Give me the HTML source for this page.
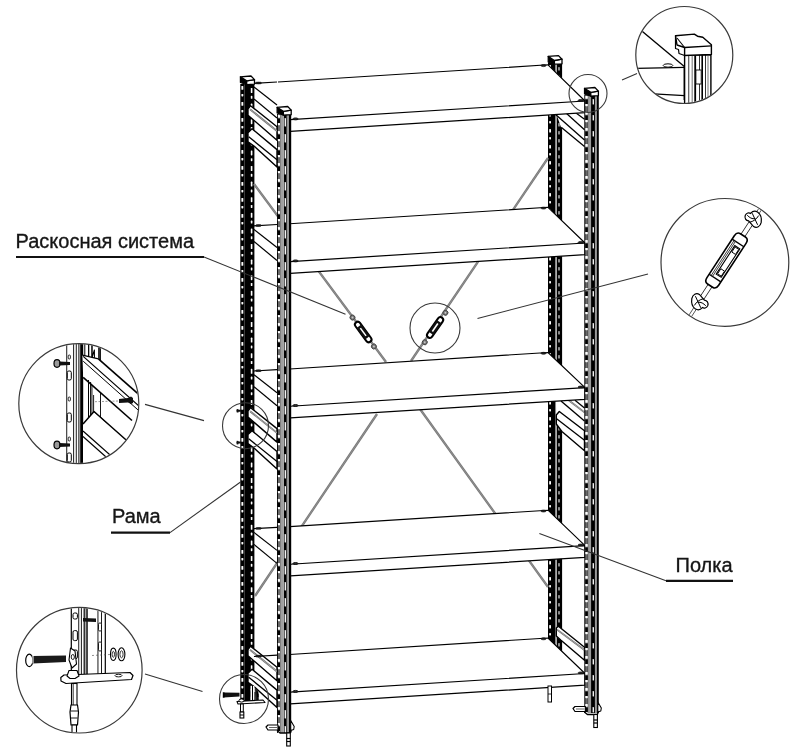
<!DOCTYPE html>
<html><head><meta charset="utf-8"><style>
html,body{margin:0;padding:0;background:#fff;width:800px;height:748px;overflow:hidden}
svg{position:absolute;left:0;top:0;display:block}
</style></head><body>
<svg width="800" height="748" viewBox="0 0 800 748">
<rect x="0.0" y="0.0" width="800.0" height="748.0" fill="#fff" />
<filter id="gs"><feOffset dx="0" dy="0"/></filter>
<rect x="240.3" y="84.0" width="14.1" height="618.0" fill="#000" />
<rect x="241.4" y="86.0" width="1.9" height="3.8" fill="#fff" rx="0.6"/>
<rect x="241.4" y="94.0" width="1.9" height="2.4" fill="#fff" rx="0.6"/>
<rect x="241.4" y="102.0" width="1.9" height="3.8" fill="#fff" rx="0.6"/>
<rect x="241.4" y="110.0" width="1.9" height="2.4" fill="#fff" rx="0.6"/>
<rect x="241.4" y="118.0" width="1.9" height="3.8" fill="#fff" rx="0.6"/>
<rect x="241.4" y="126.0" width="1.9" height="2.4" fill="#fff" rx="0.6"/>
<rect x="241.4" y="134.0" width="1.9" height="3.8" fill="#fff" rx="0.6"/>
<rect x="241.4" y="142.0" width="1.9" height="2.4" fill="#fff" rx="0.6"/>
<rect x="241.4" y="150.0" width="1.9" height="3.8" fill="#fff" rx="0.6"/>
<rect x="241.4" y="158.0" width="1.9" height="2.4" fill="#fff" rx="0.6"/>
<rect x="241.4" y="166.0" width="1.9" height="3.8" fill="#fff" rx="0.6"/>
<rect x="241.4" y="174.0" width="1.9" height="2.4" fill="#fff" rx="0.6"/>
<rect x="241.4" y="182.0" width="1.9" height="3.8" fill="#fff" rx="0.6"/>
<rect x="241.4" y="190.0" width="1.9" height="2.4" fill="#fff" rx="0.6"/>
<rect x="241.4" y="198.0" width="1.9" height="3.8" fill="#fff" rx="0.6"/>
<rect x="241.4" y="206.0" width="1.9" height="2.4" fill="#fff" rx="0.6"/>
<rect x="241.4" y="214.0" width="1.9" height="3.8" fill="#fff" rx="0.6"/>
<rect x="241.4" y="222.0" width="1.9" height="2.4" fill="#fff" rx="0.6"/>
<rect x="241.4" y="230.0" width="1.9" height="3.8" fill="#fff" rx="0.6"/>
<rect x="241.4" y="238.0" width="1.9" height="2.4" fill="#fff" rx="0.6"/>
<rect x="241.4" y="246.0" width="1.9" height="3.8" fill="#fff" rx="0.6"/>
<rect x="241.4" y="254.0" width="1.9" height="2.4" fill="#fff" rx="0.6"/>
<rect x="241.4" y="262.0" width="1.9" height="3.8" fill="#fff" rx="0.6"/>
<rect x="241.4" y="270.0" width="1.9" height="2.4" fill="#fff" rx="0.6"/>
<rect x="241.4" y="278.0" width="1.9" height="3.8" fill="#fff" rx="0.6"/>
<rect x="241.4" y="286.0" width="1.9" height="2.4" fill="#fff" rx="0.6"/>
<rect x="241.4" y="294.0" width="1.9" height="3.8" fill="#fff" rx="0.6"/>
<rect x="241.4" y="302.0" width="1.9" height="2.4" fill="#fff" rx="0.6"/>
<rect x="241.4" y="310.0" width="1.9" height="3.8" fill="#fff" rx="0.6"/>
<rect x="241.4" y="318.0" width="1.9" height="2.4" fill="#fff" rx="0.6"/>
<rect x="241.4" y="326.0" width="1.9" height="3.8" fill="#fff" rx="0.6"/>
<rect x="241.4" y="334.0" width="1.9" height="2.4" fill="#fff" rx="0.6"/>
<rect x="241.4" y="342.0" width="1.9" height="3.8" fill="#fff" rx="0.6"/>
<rect x="241.4" y="350.0" width="1.9" height="2.4" fill="#fff" rx="0.6"/>
<rect x="241.4" y="358.0" width="1.9" height="3.8" fill="#fff" rx="0.6"/>
<rect x="241.4" y="366.0" width="1.9" height="2.4" fill="#fff" rx="0.6"/>
<rect x="241.4" y="374.0" width="1.9" height="3.8" fill="#fff" rx="0.6"/>
<rect x="241.4" y="382.0" width="1.9" height="2.4" fill="#fff" rx="0.6"/>
<rect x="241.4" y="390.0" width="1.9" height="3.8" fill="#fff" rx="0.6"/>
<rect x="241.4" y="398.0" width="1.9" height="2.4" fill="#fff" rx="0.6"/>
<rect x="241.4" y="406.0" width="1.9" height="3.8" fill="#fff" rx="0.6"/>
<rect x="241.4" y="414.0" width="1.9" height="2.4" fill="#fff" rx="0.6"/>
<rect x="241.4" y="422.0" width="1.9" height="3.8" fill="#fff" rx="0.6"/>
<rect x="241.4" y="430.0" width="1.9" height="2.4" fill="#fff" rx="0.6"/>
<rect x="241.4" y="438.0" width="1.9" height="3.8" fill="#fff" rx="0.6"/>
<rect x="241.4" y="446.0" width="1.9" height="2.4" fill="#fff" rx="0.6"/>
<rect x="241.4" y="454.0" width="1.9" height="3.8" fill="#fff" rx="0.6"/>
<rect x="241.4" y="462.0" width="1.9" height="2.4" fill="#fff" rx="0.6"/>
<rect x="241.4" y="470.0" width="1.9" height="3.8" fill="#fff" rx="0.6"/>
<rect x="241.4" y="478.0" width="1.9" height="2.4" fill="#fff" rx="0.6"/>
<rect x="241.4" y="486.0" width="1.9" height="3.8" fill="#fff" rx="0.6"/>
<rect x="241.4" y="494.0" width="1.9" height="2.4" fill="#fff" rx="0.6"/>
<rect x="241.4" y="502.0" width="1.9" height="3.8" fill="#fff" rx="0.6"/>
<rect x="241.4" y="510.0" width="1.9" height="2.4" fill="#fff" rx="0.6"/>
<rect x="241.4" y="518.0" width="1.9" height="3.8" fill="#fff" rx="0.6"/>
<rect x="241.4" y="526.0" width="1.9" height="2.4" fill="#fff" rx="0.6"/>
<rect x="241.4" y="534.0" width="1.9" height="3.8" fill="#fff" rx="0.6"/>
<rect x="241.4" y="542.0" width="1.9" height="2.4" fill="#fff" rx="0.6"/>
<rect x="241.4" y="550.0" width="1.9" height="3.8" fill="#fff" rx="0.6"/>
<rect x="241.4" y="558.0" width="1.9" height="2.4" fill="#fff" rx="0.6"/>
<rect x="241.4" y="566.0" width="1.9" height="3.8" fill="#fff" rx="0.6"/>
<rect x="241.4" y="574.0" width="1.9" height="2.4" fill="#fff" rx="0.6"/>
<rect x="241.4" y="582.0" width="1.9" height="3.8" fill="#fff" rx="0.6"/>
<rect x="241.4" y="590.0" width="1.9" height="2.4" fill="#fff" rx="0.6"/>
<rect x="241.4" y="598.0" width="1.9" height="3.8" fill="#fff" rx="0.6"/>
<rect x="241.4" y="606.0" width="1.9" height="2.4" fill="#fff" rx="0.6"/>
<rect x="241.4" y="614.0" width="1.9" height="3.8" fill="#fff" rx="0.6"/>
<rect x="241.4" y="622.0" width="1.9" height="2.4" fill="#fff" rx="0.6"/>
<rect x="241.4" y="630.0" width="1.9" height="3.8" fill="#fff" rx="0.6"/>
<rect x="241.4" y="638.0" width="1.9" height="2.4" fill="#fff" rx="0.6"/>
<rect x="241.4" y="646.0" width="1.9" height="3.8" fill="#fff" rx="0.6"/>
<rect x="241.4" y="654.0" width="1.9" height="2.4" fill="#fff" rx="0.6"/>
<rect x="241.4" y="662.0" width="1.9" height="3.8" fill="#fff" rx="0.6"/>
<rect x="241.4" y="670.0" width="1.9" height="2.4" fill="#fff" rx="0.6"/>
<rect x="241.4" y="678.0" width="1.9" height="3.8" fill="#fff" rx="0.6"/>
<rect x="241.4" y="686.0" width="1.9" height="2.4" fill="#fff" rx="0.6"/>
<rect x="241.4" y="694.0" width="1.9" height="3.8" fill="#fff" rx="0.6"/>
<rect x="244.0" y="84.0" width="0.6" height="618.0" fill="#666" />
<rect x="250.8" y="88.0" width="1.6" height="5.0" fill="#fff" rx="0.6"/>
<rect x="250.8" y="95.8" width="1.6" height="3.0" fill="#fff" rx="0.6"/>
<rect x="250.8" y="103.6" width="1.6" height="5.0" fill="#fff" rx="0.6"/>
<rect x="250.8" y="111.4" width="1.6" height="3.0" fill="#fff" rx="0.6"/>
<rect x="250.8" y="119.2" width="1.6" height="5.0" fill="#fff" rx="0.6"/>
<rect x="250.8" y="127.0" width="1.6" height="3.0" fill="#fff" rx="0.6"/>
<rect x="250.8" y="134.8" width="1.6" height="5.0" fill="#fff" rx="0.6"/>
<rect x="250.8" y="142.6" width="1.6" height="3.0" fill="#fff" rx="0.6"/>
<rect x="250.8" y="150.4" width="1.6" height="5.0" fill="#fff" rx="0.6"/>
<rect x="250.8" y="158.2" width="1.6" height="3.0" fill="#fff" rx="0.6"/>
<rect x="250.8" y="166.0" width="1.6" height="5.0" fill="#fff" rx="0.6"/>
<rect x="250.8" y="173.8" width="1.6" height="3.0" fill="#fff" rx="0.6"/>
<rect x="250.8" y="181.6" width="1.6" height="5.0" fill="#fff" rx="0.6"/>
<rect x="250.8" y="189.4" width="1.6" height="3.0" fill="#fff" rx="0.6"/>
<rect x="250.8" y="197.2" width="1.6" height="5.0" fill="#fff" rx="0.6"/>
<rect x="250.8" y="205.0" width="1.6" height="3.0" fill="#fff" rx="0.6"/>
<rect x="250.8" y="212.8" width="1.6" height="5.0" fill="#fff" rx="0.6"/>
<rect x="250.8" y="220.6" width="1.6" height="3.0" fill="#fff" rx="0.6"/>
<rect x="250.8" y="228.4" width="1.6" height="5.0" fill="#fff" rx="0.6"/>
<rect x="250.8" y="236.2" width="1.6" height="3.0" fill="#fff" rx="0.6"/>
<rect x="250.8" y="244.0" width="1.6" height="5.0" fill="#fff" rx="0.6"/>
<rect x="250.8" y="251.8" width="1.6" height="3.0" fill="#fff" rx="0.6"/>
<rect x="250.8" y="259.6" width="1.6" height="5.0" fill="#fff" rx="0.6"/>
<rect x="250.8" y="267.4" width="1.6" height="3.0" fill="#fff" rx="0.6"/>
<rect x="250.8" y="275.2" width="1.6" height="5.0" fill="#fff" rx="0.6"/>
<rect x="250.8" y="283.0" width="1.6" height="3.0" fill="#fff" rx="0.6"/>
<rect x="250.8" y="290.8" width="1.6" height="5.0" fill="#fff" rx="0.6"/>
<rect x="250.8" y="298.6" width="1.6" height="3.0" fill="#fff" rx="0.6"/>
<rect x="250.8" y="306.4" width="1.6" height="5.0" fill="#fff" rx="0.6"/>
<rect x="250.8" y="314.2" width="1.6" height="3.0" fill="#fff" rx="0.6"/>
<rect x="250.8" y="322.0" width="1.6" height="5.0" fill="#fff" rx="0.6"/>
<rect x="250.8" y="329.8" width="1.6" height="3.0" fill="#fff" rx="0.6"/>
<rect x="250.8" y="337.6" width="1.6" height="5.0" fill="#fff" rx="0.6"/>
<rect x="250.8" y="345.4" width="1.6" height="3.0" fill="#fff" rx="0.6"/>
<rect x="250.8" y="353.2" width="1.6" height="5.0" fill="#fff" rx="0.6"/>
<rect x="250.8" y="361.0" width="1.6" height="3.0" fill="#fff" rx="0.6"/>
<rect x="250.8" y="368.8" width="1.6" height="5.0" fill="#fff" rx="0.6"/>
<rect x="250.8" y="376.6" width="1.6" height="3.0" fill="#fff" rx="0.6"/>
<rect x="250.8" y="384.4" width="1.6" height="5.0" fill="#fff" rx="0.6"/>
<rect x="250.8" y="392.2" width="1.6" height="3.0" fill="#fff" rx="0.6"/>
<rect x="250.8" y="400.0" width="1.6" height="5.0" fill="#fff" rx="0.6"/>
<rect x="250.8" y="407.8" width="1.6" height="3.0" fill="#fff" rx="0.6"/>
<rect x="250.8" y="415.6" width="1.6" height="5.0" fill="#fff" rx="0.6"/>
<rect x="250.8" y="423.4" width="1.6" height="3.0" fill="#fff" rx="0.6"/>
<rect x="250.8" y="431.2" width="1.6" height="5.0" fill="#fff" rx="0.6"/>
<rect x="250.8" y="439.0" width="1.6" height="3.0" fill="#fff" rx="0.6"/>
<rect x="250.8" y="446.8" width="1.6" height="5.0" fill="#fff" rx="0.6"/>
<rect x="250.8" y="454.6" width="1.6" height="3.0" fill="#fff" rx="0.6"/>
<rect x="250.8" y="462.4" width="1.6" height="5.0" fill="#fff" rx="0.6"/>
<rect x="250.8" y="470.2" width="1.6" height="3.0" fill="#fff" rx="0.6"/>
<rect x="250.8" y="478.0" width="1.6" height="5.0" fill="#fff" rx="0.6"/>
<rect x="250.8" y="485.8" width="1.6" height="3.0" fill="#fff" rx="0.6"/>
<rect x="250.8" y="493.6" width="1.6" height="5.0" fill="#fff" rx="0.6"/>
<rect x="250.8" y="501.4" width="1.6" height="3.0" fill="#fff" rx="0.6"/>
<rect x="250.8" y="509.2" width="1.6" height="5.0" fill="#fff" rx="0.6"/>
<rect x="250.8" y="517.0" width="1.6" height="3.0" fill="#fff" rx="0.6"/>
<rect x="250.8" y="524.8" width="1.6" height="5.0" fill="#fff" rx="0.6"/>
<rect x="250.8" y="532.6" width="1.6" height="3.0" fill="#fff" rx="0.6"/>
<rect x="250.8" y="540.4" width="1.6" height="5.0" fill="#fff" rx="0.6"/>
<rect x="250.8" y="548.2" width="1.6" height="3.0" fill="#fff" rx="0.6"/>
<rect x="250.8" y="556.0" width="1.6" height="5.0" fill="#fff" rx="0.6"/>
<rect x="250.8" y="563.8" width="1.6" height="3.0" fill="#fff" rx="0.6"/>
<rect x="250.8" y="571.6" width="1.6" height="5.0" fill="#fff" rx="0.6"/>
<rect x="250.8" y="579.4" width="1.6" height="3.0" fill="#fff" rx="0.6"/>
<rect x="250.8" y="587.2" width="1.6" height="5.0" fill="#fff" rx="0.6"/>
<rect x="250.8" y="595.0" width="1.6" height="3.0" fill="#fff" rx="0.6"/>
<rect x="250.8" y="602.8" width="1.6" height="5.0" fill="#fff" rx="0.6"/>
<rect x="250.8" y="610.6" width="1.6" height="3.0" fill="#fff" rx="0.6"/>
<rect x="250.8" y="618.4" width="1.6" height="5.0" fill="#fff" rx="0.6"/>
<rect x="250.8" y="626.2" width="1.6" height="3.0" fill="#fff" rx="0.6"/>
<rect x="250.8" y="634.0" width="1.6" height="5.0" fill="#fff" rx="0.6"/>
<rect x="250.8" y="641.8" width="1.6" height="3.0" fill="#fff" rx="0.6"/>
<rect x="250.8" y="649.6" width="1.6" height="5.0" fill="#fff" rx="0.6"/>
<rect x="250.8" y="657.4" width="1.6" height="3.0" fill="#fff" rx="0.6"/>
<rect x="250.8" y="665.2" width="1.6" height="5.0" fill="#fff" rx="0.6"/>
<rect x="250.8" y="673.0" width="1.6" height="3.0" fill="#fff" rx="0.6"/>
<rect x="250.8" y="680.8" width="1.6" height="5.0" fill="#fff" rx="0.6"/>
<rect x="250.8" y="688.6" width="1.6" height="3.0" fill="#fff" rx="0.6"/>
<rect x="250.8" y="696.4" width="1.6" height="5.0" fill="#fff" rx="0.6"/>
<rect x="548.0" y="63.0" width="14.1" height="621.0" fill="#000" />
<rect x="549.2" y="65.0" width="1.8" height="3.6" fill="#fff" rx="0.6"/>
<rect x="549.2" y="73.0" width="1.8" height="2.4" fill="#fff" rx="0.6"/>
<rect x="549.2" y="81.0" width="1.8" height="3.6" fill="#fff" rx="0.6"/>
<rect x="549.2" y="89.0" width="1.8" height="2.4" fill="#fff" rx="0.6"/>
<rect x="549.2" y="97.0" width="1.8" height="3.6" fill="#fff" rx="0.6"/>
<rect x="549.2" y="105.0" width="1.8" height="2.4" fill="#fff" rx="0.6"/>
<rect x="549.2" y="113.0" width="1.8" height="3.6" fill="#fff" rx="0.6"/>
<rect x="549.2" y="121.0" width="1.8" height="2.4" fill="#fff" rx="0.6"/>
<rect x="549.2" y="129.0" width="1.8" height="3.6" fill="#fff" rx="0.6"/>
<rect x="549.2" y="137.0" width="1.8" height="2.4" fill="#fff" rx="0.6"/>
<rect x="549.2" y="145.0" width="1.8" height="3.6" fill="#fff" rx="0.6"/>
<rect x="549.2" y="153.0" width="1.8" height="2.4" fill="#fff" rx="0.6"/>
<rect x="549.2" y="161.0" width="1.8" height="3.6" fill="#fff" rx="0.6"/>
<rect x="549.2" y="169.0" width="1.8" height="2.4" fill="#fff" rx="0.6"/>
<rect x="549.2" y="177.0" width="1.8" height="3.6" fill="#fff" rx="0.6"/>
<rect x="549.2" y="185.0" width="1.8" height="2.4" fill="#fff" rx="0.6"/>
<rect x="549.2" y="193.0" width="1.8" height="3.6" fill="#fff" rx="0.6"/>
<rect x="549.2" y="201.0" width="1.8" height="2.4" fill="#fff" rx="0.6"/>
<rect x="549.2" y="209.0" width="1.8" height="3.6" fill="#fff" rx="0.6"/>
<rect x="549.2" y="217.0" width="1.8" height="2.4" fill="#fff" rx="0.6"/>
<rect x="549.2" y="225.0" width="1.8" height="3.6" fill="#fff" rx="0.6"/>
<rect x="549.2" y="233.0" width="1.8" height="2.4" fill="#fff" rx="0.6"/>
<rect x="549.2" y="241.0" width="1.8" height="3.6" fill="#fff" rx="0.6"/>
<rect x="549.2" y="249.0" width="1.8" height="2.4" fill="#fff" rx="0.6"/>
<rect x="549.2" y="257.0" width="1.8" height="3.6" fill="#fff" rx="0.6"/>
<rect x="549.2" y="265.0" width="1.8" height="2.4" fill="#fff" rx="0.6"/>
<rect x="549.2" y="273.0" width="1.8" height="3.6" fill="#fff" rx="0.6"/>
<rect x="549.2" y="281.0" width="1.8" height="2.4" fill="#fff" rx="0.6"/>
<rect x="549.2" y="289.0" width="1.8" height="3.6" fill="#fff" rx="0.6"/>
<rect x="549.2" y="297.0" width="1.8" height="2.4" fill="#fff" rx="0.6"/>
<rect x="549.2" y="305.0" width="1.8" height="3.6" fill="#fff" rx="0.6"/>
<rect x="549.2" y="313.0" width="1.8" height="2.4" fill="#fff" rx="0.6"/>
<rect x="549.2" y="321.0" width="1.8" height="3.6" fill="#fff" rx="0.6"/>
<rect x="549.2" y="329.0" width="1.8" height="2.4" fill="#fff" rx="0.6"/>
<rect x="549.2" y="337.0" width="1.8" height="3.6" fill="#fff" rx="0.6"/>
<rect x="549.2" y="345.0" width="1.8" height="2.4" fill="#fff" rx="0.6"/>
<rect x="549.2" y="353.0" width="1.8" height="3.6" fill="#fff" rx="0.6"/>
<rect x="549.2" y="361.0" width="1.8" height="2.4" fill="#fff" rx="0.6"/>
<rect x="549.2" y="369.0" width="1.8" height="3.6" fill="#fff" rx="0.6"/>
<rect x="549.2" y="377.0" width="1.8" height="2.4" fill="#fff" rx="0.6"/>
<rect x="549.2" y="385.0" width="1.8" height="3.6" fill="#fff" rx="0.6"/>
<rect x="549.2" y="393.0" width="1.8" height="2.4" fill="#fff" rx="0.6"/>
<rect x="549.2" y="401.0" width="1.8" height="3.6" fill="#fff" rx="0.6"/>
<rect x="549.2" y="409.0" width="1.8" height="2.4" fill="#fff" rx="0.6"/>
<rect x="549.2" y="417.0" width="1.8" height="3.6" fill="#fff" rx="0.6"/>
<rect x="549.2" y="425.0" width="1.8" height="2.4" fill="#fff" rx="0.6"/>
<rect x="549.2" y="433.0" width="1.8" height="3.6" fill="#fff" rx="0.6"/>
<rect x="549.2" y="441.0" width="1.8" height="2.4" fill="#fff" rx="0.6"/>
<rect x="549.2" y="449.0" width="1.8" height="3.6" fill="#fff" rx="0.6"/>
<rect x="549.2" y="457.0" width="1.8" height="2.4" fill="#fff" rx="0.6"/>
<rect x="549.2" y="465.0" width="1.8" height="3.6" fill="#fff" rx="0.6"/>
<rect x="549.2" y="473.0" width="1.8" height="2.4" fill="#fff" rx="0.6"/>
<rect x="549.2" y="481.0" width="1.8" height="3.6" fill="#fff" rx="0.6"/>
<rect x="549.2" y="489.0" width="1.8" height="2.4" fill="#fff" rx="0.6"/>
<rect x="549.2" y="497.0" width="1.8" height="3.6" fill="#fff" rx="0.6"/>
<rect x="549.2" y="505.0" width="1.8" height="2.4" fill="#fff" rx="0.6"/>
<rect x="549.2" y="513.0" width="1.8" height="3.6" fill="#fff" rx="0.6"/>
<rect x="549.2" y="521.0" width="1.8" height="2.4" fill="#fff" rx="0.6"/>
<rect x="549.2" y="529.0" width="1.8" height="3.6" fill="#fff" rx="0.6"/>
<rect x="549.2" y="537.0" width="1.8" height="2.4" fill="#fff" rx="0.6"/>
<rect x="549.2" y="545.0" width="1.8" height="3.6" fill="#fff" rx="0.6"/>
<rect x="549.2" y="553.0" width="1.8" height="2.4" fill="#fff" rx="0.6"/>
<rect x="549.2" y="561.0" width="1.8" height="3.6" fill="#fff" rx="0.6"/>
<rect x="549.2" y="569.0" width="1.8" height="2.4" fill="#fff" rx="0.6"/>
<rect x="549.2" y="577.0" width="1.8" height="3.6" fill="#fff" rx="0.6"/>
<rect x="549.2" y="585.0" width="1.8" height="2.4" fill="#fff" rx="0.6"/>
<rect x="549.2" y="593.0" width="1.8" height="3.6" fill="#fff" rx="0.6"/>
<rect x="549.2" y="601.0" width="1.8" height="2.4" fill="#fff" rx="0.6"/>
<rect x="549.2" y="609.0" width="1.8" height="3.6" fill="#fff" rx="0.6"/>
<rect x="549.2" y="617.0" width="1.8" height="2.4" fill="#fff" rx="0.6"/>
<rect x="549.2" y="625.0" width="1.8" height="3.6" fill="#fff" rx="0.6"/>
<rect x="549.2" y="633.0" width="1.8" height="2.4" fill="#fff" rx="0.6"/>
<rect x="549.2" y="641.0" width="1.8" height="3.6" fill="#fff" rx="0.6"/>
<rect x="549.2" y="649.0" width="1.8" height="2.4" fill="#fff" rx="0.6"/>
<rect x="549.2" y="657.0" width="1.8" height="3.6" fill="#fff" rx="0.6"/>
<rect x="549.2" y="665.0" width="1.8" height="2.4" fill="#fff" rx="0.6"/>
<rect x="549.2" y="673.0" width="1.8" height="3.6" fill="#fff" rx="0.6"/>
<rect x="549.2" y="681.0" width="1.8" height="2.4" fill="#fff" rx="0.6"/>
<rect x="555.2" y="63.0" width="1.8" height="621.0" fill="#aaa" />
<rect x="558.0" y="67.0" width="2.0" height="3.5" fill="#8a8a8a" rx="0.6"/>
<rect x="558.0" y="75.0" width="2.0" height="3.5" fill="#8a8a8a" rx="0.6"/>
<rect x="558.0" y="83.0" width="2.0" height="3.5" fill="#8a8a8a" rx="0.6"/>
<rect x="558.0" y="91.0" width="2.0" height="3.5" fill="#8a8a8a" rx="0.6"/>
<rect x="558.0" y="99.0" width="2.0" height="3.5" fill="#8a8a8a" rx="0.6"/>
<rect x="558.0" y="107.0" width="2.0" height="3.5" fill="#8a8a8a" rx="0.6"/>
<rect x="558.0" y="115.0" width="2.0" height="3.5" fill="#8a8a8a" rx="0.6"/>
<rect x="558.0" y="123.0" width="2.0" height="3.5" fill="#8a8a8a" rx="0.6"/>
<rect x="558.0" y="131.0" width="2.0" height="3.5" fill="#8a8a8a" rx="0.6"/>
<rect x="558.0" y="139.0" width="2.0" height="3.5" fill="#8a8a8a" rx="0.6"/>
<rect x="558.0" y="147.0" width="2.0" height="3.5" fill="#8a8a8a" rx="0.6"/>
<rect x="558.0" y="155.0" width="2.0" height="3.5" fill="#8a8a8a" rx="0.6"/>
<rect x="558.0" y="163.0" width="2.0" height="3.5" fill="#8a8a8a" rx="0.6"/>
<rect x="558.0" y="171.0" width="2.0" height="3.5" fill="#8a8a8a" rx="0.6"/>
<rect x="558.0" y="179.0" width="2.0" height="3.5" fill="#8a8a8a" rx="0.6"/>
<rect x="558.0" y="187.0" width="2.0" height="3.5" fill="#8a8a8a" rx="0.6"/>
<rect x="558.0" y="195.0" width="2.0" height="3.5" fill="#8a8a8a" rx="0.6"/>
<rect x="558.0" y="203.0" width="2.0" height="3.5" fill="#8a8a8a" rx="0.6"/>
<rect x="558.0" y="211.0" width="2.0" height="3.5" fill="#8a8a8a" rx="0.6"/>
<rect x="558.0" y="219.0" width="2.0" height="3.5" fill="#8a8a8a" rx="0.6"/>
<rect x="558.0" y="227.0" width="2.0" height="3.5" fill="#8a8a8a" rx="0.6"/>
<rect x="558.0" y="235.0" width="2.0" height="3.5" fill="#8a8a8a" rx="0.6"/>
<rect x="558.0" y="243.0" width="2.0" height="3.5" fill="#8a8a8a" rx="0.6"/>
<rect x="558.0" y="251.0" width="2.0" height="3.5" fill="#8a8a8a" rx="0.6"/>
<rect x="558.0" y="259.0" width="2.0" height="3.5" fill="#8a8a8a" rx="0.6"/>
<rect x="558.0" y="267.0" width="2.0" height="3.5" fill="#8a8a8a" rx="0.6"/>
<rect x="558.0" y="275.0" width="2.0" height="3.5" fill="#8a8a8a" rx="0.6"/>
<rect x="558.0" y="283.0" width="2.0" height="3.5" fill="#8a8a8a" rx="0.6"/>
<rect x="558.0" y="291.0" width="2.0" height="3.5" fill="#8a8a8a" rx="0.6"/>
<rect x="558.0" y="299.0" width="2.0" height="3.5" fill="#8a8a8a" rx="0.6"/>
<rect x="558.0" y="307.0" width="2.0" height="3.5" fill="#8a8a8a" rx="0.6"/>
<rect x="558.0" y="315.0" width="2.0" height="3.5" fill="#8a8a8a" rx="0.6"/>
<rect x="558.0" y="323.0" width="2.0" height="3.5" fill="#8a8a8a" rx="0.6"/>
<rect x="558.0" y="331.0" width="2.0" height="3.5" fill="#8a8a8a" rx="0.6"/>
<rect x="558.0" y="339.0" width="2.0" height="3.5" fill="#8a8a8a" rx="0.6"/>
<rect x="558.0" y="347.0" width="2.0" height="3.5" fill="#8a8a8a" rx="0.6"/>
<rect x="558.0" y="355.0" width="2.0" height="3.5" fill="#8a8a8a" rx="0.6"/>
<rect x="558.0" y="363.0" width="2.0" height="3.5" fill="#8a8a8a" rx="0.6"/>
<rect x="558.0" y="371.0" width="2.0" height="3.5" fill="#8a8a8a" rx="0.6"/>
<rect x="558.0" y="379.0" width="2.0" height="3.5" fill="#8a8a8a" rx="0.6"/>
<rect x="558.0" y="387.0" width="2.0" height="3.5" fill="#8a8a8a" rx="0.6"/>
<rect x="558.0" y="395.0" width="2.0" height="3.5" fill="#8a8a8a" rx="0.6"/>
<rect x="558.0" y="403.0" width="2.0" height="3.5" fill="#8a8a8a" rx="0.6"/>
<rect x="558.0" y="411.0" width="2.0" height="3.5" fill="#8a8a8a" rx="0.6"/>
<rect x="558.0" y="419.0" width="2.0" height="3.5" fill="#8a8a8a" rx="0.6"/>
<rect x="558.0" y="427.0" width="2.0" height="3.5" fill="#8a8a8a" rx="0.6"/>
<rect x="558.0" y="435.0" width="2.0" height="3.5" fill="#8a8a8a" rx="0.6"/>
<rect x="558.0" y="443.0" width="2.0" height="3.5" fill="#8a8a8a" rx="0.6"/>
<rect x="558.0" y="451.0" width="2.0" height="3.5" fill="#8a8a8a" rx="0.6"/>
<rect x="558.0" y="459.0" width="2.0" height="3.5" fill="#8a8a8a" rx="0.6"/>
<rect x="558.0" y="467.0" width="2.0" height="3.5" fill="#8a8a8a" rx="0.6"/>
<rect x="558.0" y="475.0" width="2.0" height="3.5" fill="#8a8a8a" rx="0.6"/>
<rect x="558.0" y="483.0" width="2.0" height="3.5" fill="#8a8a8a" rx="0.6"/>
<rect x="558.0" y="491.0" width="2.0" height="3.5" fill="#8a8a8a" rx="0.6"/>
<rect x="558.0" y="499.0" width="2.0" height="3.5" fill="#8a8a8a" rx="0.6"/>
<rect x="558.0" y="507.0" width="2.0" height="3.5" fill="#8a8a8a" rx="0.6"/>
<rect x="558.0" y="515.0" width="2.0" height="3.5" fill="#8a8a8a" rx="0.6"/>
<rect x="558.0" y="523.0" width="2.0" height="3.5" fill="#8a8a8a" rx="0.6"/>
<rect x="558.0" y="531.0" width="2.0" height="3.5" fill="#8a8a8a" rx="0.6"/>
<rect x="558.0" y="539.0" width="2.0" height="3.5" fill="#8a8a8a" rx="0.6"/>
<rect x="558.0" y="547.0" width="2.0" height="3.5" fill="#8a8a8a" rx="0.6"/>
<rect x="558.0" y="555.0" width="2.0" height="3.5" fill="#8a8a8a" rx="0.6"/>
<rect x="558.0" y="563.0" width="2.0" height="3.5" fill="#8a8a8a" rx="0.6"/>
<rect x="558.0" y="571.0" width="2.0" height="3.5" fill="#8a8a8a" rx="0.6"/>
<rect x="558.0" y="579.0" width="2.0" height="3.5" fill="#8a8a8a" rx="0.6"/>
<rect x="558.0" y="587.0" width="2.0" height="3.5" fill="#8a8a8a" rx="0.6"/>
<rect x="558.0" y="595.0" width="2.0" height="3.5" fill="#8a8a8a" rx="0.6"/>
<rect x="558.0" y="603.0" width="2.0" height="3.5" fill="#8a8a8a" rx="0.6"/>
<rect x="558.0" y="611.0" width="2.0" height="3.5" fill="#8a8a8a" rx="0.6"/>
<rect x="558.0" y="619.0" width="2.0" height="3.5" fill="#8a8a8a" rx="0.6"/>
<rect x="558.0" y="627.0" width="2.0" height="3.5" fill="#8a8a8a" rx="0.6"/>
<rect x="558.0" y="635.0" width="2.0" height="3.5" fill="#8a8a8a" rx="0.6"/>
<rect x="558.0" y="643.0" width="2.0" height="3.5" fill="#8a8a8a" rx="0.6"/>
<rect x="558.0" y="651.0" width="2.0" height="3.5" fill="#8a8a8a" rx="0.6"/>
<rect x="558.0" y="659.0" width="2.0" height="3.5" fill="#8a8a8a" rx="0.6"/>
<rect x="558.0" y="667.0" width="2.0" height="3.5" fill="#8a8a8a" rx="0.6"/>
<rect x="558.0" y="675.0" width="2.0" height="3.5" fill="#8a8a8a" rx="0.6"/>
<rect x="558.0" y="683.0" width="2.0" height="1.0" fill="#8a8a8a" rx="0.6"/>
<polygon points="240.4,76.8 246.7,80.9 246.7,84.6 240.4,82.5" fill="#000" stroke="#000" stroke-width="1.2" stroke-linejoin="round" />
<polygon points="246.7,80.9 254.5,79.6 254.5,84.2 246.7,84.6" fill="#fff" stroke="#000" stroke-width="1.3" stroke-linejoin="round" />
<polygon points="240.4,76.8 251.0,76.0 254.5,79.6 246.7,80.9" fill="#fff" stroke="#000" stroke-width="1.3" stroke-linejoin="round" />
<polygon points="548.2,56.4 554.4,60.5 554.4,64.2 548.2,62.1" fill="#000" stroke="#000" stroke-width="1.2" stroke-linejoin="round" />
<polygon points="554.4,60.5 562.0,59.2 562.0,63.8 554.4,64.2" fill="#fff" stroke="#000" stroke-width="1.3" stroke-linejoin="round" />
<polygon points="548.2,56.4 558.5,55.6 562.0,59.2 554.4,60.5" fill="#fff" stroke="#000" stroke-width="1.3" stroke-linejoin="round" />
<line x1="254.0" y1="184.0" x2="386.0" y2="362.0" stroke="#787878" stroke-width="2.3" />
<line x1="254.0" y1="184.0" x2="386.0" y2="362.0" stroke="#a8a8a8" stroke-width="0.5" />
<line x1="548.0" y1="158.0" x2="411.0" y2="361.0" stroke="#787878" stroke-width="2.3" />
<line x1="548.0" y1="158.0" x2="411.0" y2="361.0" stroke="#a8a8a8" stroke-width="0.5" />
<line x1="377.0" y1="414.0" x2="255.0" y2="596.0" stroke="#787878" stroke-width="2.3" />
<line x1="377.0" y1="414.0" x2="255.0" y2="596.0" stroke="#a8a8a8" stroke-width="0.5" />
<line x1="420.0" y1="409.0" x2="548.0" y2="587.0" stroke="#787878" stroke-width="2.3" />
<line x1="420.0" y1="409.0" x2="548.0" y2="587.0" stroke="#a8a8a8" stroke-width="0.5" />
<polygon points="248.0,109.2 250.5,105.7 277.0,126.7 277.0,140.2 248.0,115.2" fill="#fff" stroke="#000" stroke-width="1.4" stroke-linejoin="round" />
<polygon points="248.0,132.7 252.0,128.8 277.0,149.6 277.0,167.0 254.0,146.1 248.0,141.7" fill="#fff" stroke="#000" stroke-width="1.4" stroke-linejoin="round" />
<line x1="250.0" y1="109.3" x2="277.0" y2="131.0" stroke="#6a6a6a" stroke-width="1.8" />
<line x1="250.0" y1="109.3" x2="277.0" y2="131.0" stroke="#d8d8d8" stroke-width="0.5" />
<line x1="248.7" y1="136.8" x2="277.0" y2="159.7" stroke="#000" stroke-width="1.3" />
<polygon points="248.0,411.1 250.5,407.6 277.0,428.6 277.0,442.1 248.0,417.1" fill="#fff" stroke="#000" stroke-width="1.4" stroke-linejoin="round" />
<polygon points="248.0,434.6 252.0,430.7 277.0,451.5 277.0,468.9 254.0,448.0 248.0,443.6" fill="#fff" stroke="#000" stroke-width="1.4" stroke-linejoin="round" />
<line x1="250.0" y1="411.2" x2="277.0" y2="432.9" stroke="#6a6a6a" stroke-width="1.8" />
<line x1="250.0" y1="411.2" x2="277.0" y2="432.9" stroke="#d8d8d8" stroke-width="0.5" />
<line x1="248.7" y1="438.7" x2="277.0" y2="461.6" stroke="#000" stroke-width="1.3" />
<polygon points="248.0,649.7 250.5,646.2 277.0,667.2 277.0,680.7 248.0,655.7" fill="#fff" stroke="#000" stroke-width="1.4" stroke-linejoin="round" />
<polygon points="248.0,673.2 252.0,669.3 277.0,690.1 277.0,707.5 254.0,686.6 248.0,682.2" fill="#fff" stroke="#000" stroke-width="1.4" stroke-linejoin="round" />
<line x1="250.0" y1="649.8" x2="277.0" y2="671.5" stroke="#6a6a6a" stroke-width="1.8" />
<line x1="250.0" y1="649.8" x2="277.0" y2="671.5" stroke="#d8d8d8" stroke-width="0.5" />
<line x1="248.7" y1="677.3" x2="277.0" y2="700.2" stroke="#000" stroke-width="1.3" />
<polygon points="556.0,113.0 584.5,113.0 584.5,147.0 561.0,127.3" fill="#fff" stroke="none" stroke-width="0" stroke-linejoin="round" />
<line x1="575.7" y1="112.8" x2="584.5" y2="119.3" stroke="#000" stroke-width="1.3" />
<line x1="566.0" y1="113.0" x2="584.5" y2="129.7" stroke="#000" stroke-width="1.3" />
<line x1="555.6" y1="114.4" x2="584.5" y2="140.1" stroke="#000" stroke-width="1.3" />
<line x1="561.2" y1="127.3" x2="584.5" y2="146.5" stroke="#000" stroke-width="1.3" />
<polygon points="556.0,400.0 584.5,400.0 584.5,451.0 561.9,431.5 556.3,424.0" fill="#fff" stroke="none" stroke-width="0" stroke-linejoin="round" />
<line x1="568.0" y1="399.8" x2="584.5" y2="412.4" stroke="#6a6a6a" stroke-width="1.8" />
<line x1="568.0" y1="399.8" x2="584.5" y2="412.4" stroke="#d8d8d8" stroke-width="0.5" />
<line x1="575.0" y1="400.2" x2="584.5" y2="408.0" stroke="#000" stroke-width="1.3" />
<line x1="561.0" y1="401.0" x2="584.5" y2="421.0" stroke="#000" stroke-width="1.4" />
<polygon points="556.3,415.0 559.3,411.5 584.5,430.7 584.5,450.7 561.9,431.5 556.3,424.0" fill="#fff" stroke="#000" stroke-width="1.4" stroke-linejoin="round" />
<line x1="556.3" y1="418.5" x2="584.5" y2="440.2" stroke="#000" stroke-width="1.3" />
<polygon points="556.3,628.0 558.4,626.3 584.5,647.2 584.5,660.2 561.0,640.2 556.3,636.0" fill="#fff" stroke="#000" stroke-width="1.4" stroke-linejoin="round" />
<line x1="557.0" y1="629.6" x2="584.5" y2="650.0" stroke="#6a6a6a" stroke-width="1.8" />
<line x1="557.0" y1="629.6" x2="584.5" y2="650.0" stroke="#d8d8d8" stroke-width="0.5" />
<line x1="254.0" y1="83.3" x2="277.0" y2="82.0" stroke="#000" stroke-width="1.2" />
<line x1="254.0" y1="87.0" x2="277.0" y2="105.0" stroke="#000" stroke-width="1.2" />
<line x1="254.0" y1="99.0" x2="277.0" y2="118.0" stroke="#000" stroke-width="1.2" />
<polygon points="278.0,82.0 548.0,64.8 585.0,101.0 278.0,120.5" fill="#fff" stroke="none" stroke-width="0" stroke-linejoin="round" />
<polyline points="278.0,82.0 548.0,64.8 585.0,101.0" fill="none" stroke="#000" stroke-width="1.15" stroke-linejoin="round" />
<polygon points="278.5,120.4 585.0,101.0 585.0,112.7 278.5,132.1" fill="#fff" stroke="#000" stroke-width="1.2" stroke-linejoin="round" />
<ellipse cx="295.5" cy="118.9" rx="2.6" ry="1.0" fill="#333" stroke="#000" stroke-width="0.8" />
<ellipse cx="258.5" cy="83.0" rx="3.0" ry="0.9" fill="#222" stroke="#000" stroke-width="0.6" />
<ellipse cx="543.5" cy="65.6" rx="2.6" ry="1.0" fill="#222" stroke="#000" stroke-width="0.6" />
<ellipse cx="581.0" cy="100.4" rx="3.0" ry="1.0" fill="#222" stroke="#000" stroke-width="0.6" />
<line x1="254.0" y1="225.8" x2="277.0" y2="224.5" stroke="#000" stroke-width="1.2" />
<line x1="254.0" y1="229.5" x2="277.0" y2="247.5" stroke="#000" stroke-width="1.2" />
<line x1="254.0" y1="241.5" x2="277.0" y2="260.5" stroke="#000" stroke-width="1.2" />
<polygon points="278.0,224.5 548.0,207.3 585.0,243.0 278.0,262.5" fill="#fff" stroke="none" stroke-width="0" stroke-linejoin="round" />
<polyline points="278.0,224.5 548.0,207.3 585.0,243.0" fill="none" stroke="#000" stroke-width="1.15" stroke-linejoin="round" />
<polygon points="278.5,262.4 585.0,243.0 585.0,254.7 278.5,274.1" fill="#fff" stroke="#000" stroke-width="1.2" stroke-linejoin="round" />
<ellipse cx="295.5" cy="260.9" rx="2.6" ry="1.0" fill="#333" stroke="#000" stroke-width="0.8" />
<ellipse cx="258.5" cy="225.5" rx="3.0" ry="0.9" fill="#222" stroke="#000" stroke-width="0.6" />
<ellipse cx="543.5" cy="208.1" rx="2.6" ry="1.0" fill="#222" stroke="#000" stroke-width="0.6" />
<ellipse cx="581.0" cy="242.4" rx="3.0" ry="1.0" fill="#222" stroke="#000" stroke-width="0.6" />
<line x1="254.0" y1="371.0" x2="277.0" y2="369.7" stroke="#000" stroke-width="1.2" />
<line x1="254.0" y1="374.7" x2="277.0" y2="392.7" stroke="#000" stroke-width="1.2" />
<line x1="254.0" y1="386.7" x2="277.0" y2="405.7" stroke="#000" stroke-width="1.2" />
<polygon points="278.0,369.7 548.0,352.5 585.0,387.6 278.0,407.1" fill="#fff" stroke="none" stroke-width="0" stroke-linejoin="round" />
<polyline points="278.0,369.7 548.0,352.5 585.0,387.6" fill="none" stroke="#000" stroke-width="1.15" stroke-linejoin="round" />
<polygon points="278.5,407.0 585.0,387.6 585.0,399.3 278.5,418.7" fill="#fff" stroke="#000" stroke-width="1.2" stroke-linejoin="round" />
<ellipse cx="295.5" cy="405.5" rx="2.6" ry="1.0" fill="#333" stroke="#000" stroke-width="0.8" />
<ellipse cx="258.5" cy="370.7" rx="3.0" ry="0.9" fill="#222" stroke="#000" stroke-width="0.6" />
<ellipse cx="543.5" cy="353.3" rx="2.6" ry="1.0" fill="#222" stroke="#000" stroke-width="0.6" />
<ellipse cx="581.0" cy="387.0" rx="3.0" ry="1.0" fill="#222" stroke="#000" stroke-width="0.6" />
<line x1="254.0" y1="528.7" x2="277.0" y2="527.4" stroke="#000" stroke-width="1.2" />
<line x1="254.0" y1="532.4" x2="277.0" y2="550.4" stroke="#000" stroke-width="1.2" />
<line x1="254.0" y1="544.4" x2="277.0" y2="563.4" stroke="#000" stroke-width="1.2" />
<polygon points="278.0,527.4 548.0,510.2 585.0,545.6 278.0,565.1" fill="#fff" stroke="none" stroke-width="0" stroke-linejoin="round" />
<polyline points="278.0,527.4 548.0,510.2 585.0,545.6" fill="none" stroke="#000" stroke-width="1.15" stroke-linejoin="round" />
<polygon points="278.5,565.0 585.0,545.6 585.0,557.3 278.5,576.7" fill="#fff" stroke="#000" stroke-width="1.2" stroke-linejoin="round" />
<ellipse cx="295.5" cy="563.5" rx="2.6" ry="1.0" fill="#333" stroke="#000" stroke-width="0.8" />
<ellipse cx="258.5" cy="528.4" rx="3.0" ry="0.9" fill="#222" stroke="#000" stroke-width="0.6" />
<ellipse cx="543.5" cy="511.0" rx="2.6" ry="1.0" fill="#222" stroke="#000" stroke-width="0.6" />
<ellipse cx="581.0" cy="545.0" rx="3.0" ry="1.0" fill="#222" stroke="#000" stroke-width="0.6" />
<line x1="254.0" y1="656.5" x2="277.0" y2="655.2" stroke="#000" stroke-width="1.2" />
<polygon points="278.0,655.2 548.0,638.0 585.0,673.5 278.0,693.0" fill="#fff" stroke="none" stroke-width="0" stroke-linejoin="round" />
<polyline points="278.0,655.2 548.0,638.0 585.0,673.5" fill="none" stroke="#000" stroke-width="1.15" stroke-linejoin="round" />
<polygon points="278.5,692.9 585.0,673.5 585.0,685.2 278.5,704.6" fill="#fff" stroke="#000" stroke-width="1.2" stroke-linejoin="round" />
<ellipse cx="295.5" cy="691.4" rx="2.6" ry="1.0" fill="#333" stroke="#000" stroke-width="0.8" />
<ellipse cx="258.5" cy="656.2" rx="3.0" ry="0.9" fill="#222" stroke="#000" stroke-width="0.6" />
<ellipse cx="543.5" cy="638.8" rx="2.6" ry="1.0" fill="#222" stroke="#000" stroke-width="0.6" />
<ellipse cx="581.0" cy="672.9" rx="3.0" ry="1.0" fill="#222" stroke="#000" stroke-width="0.6" />
<rect x="548.0" y="686.0" width="3.5" height="16.0" fill="#fff" stroke="#000" stroke-width="1"/>
<line x1="548.0" y1="694.0" x2="551.5" y2="694.0" stroke="#000" stroke-width="0.8" />
<rect x="277.0" y="114.0" width="14.2" height="619.0" fill="#000" />
<rect x="277.9" y="114.0" width="2.1" height="619.0" fill="#6a6a6a" />
<rect x="277.9" y="115.0" width="2.1" height="2.8" fill="#fff" rx="0.6"/>
<rect x="277.9" y="123.0" width="2.1" height="2.2" fill="#fff" rx="0.6"/>
<rect x="277.9" y="131.0" width="2.1" height="2.8" fill="#fff" rx="0.6"/>
<rect x="277.9" y="139.0" width="2.1" height="2.2" fill="#fff" rx="0.6"/>
<rect x="277.9" y="147.0" width="2.1" height="2.8" fill="#fff" rx="0.6"/>
<rect x="277.9" y="155.0" width="2.1" height="2.2" fill="#fff" rx="0.6"/>
<rect x="277.9" y="163.0" width="2.1" height="2.8" fill="#fff" rx="0.6"/>
<rect x="277.9" y="171.0" width="2.1" height="2.2" fill="#fff" rx="0.6"/>
<rect x="277.9" y="179.0" width="2.1" height="2.8" fill="#fff" rx="0.6"/>
<rect x="277.9" y="187.0" width="2.1" height="2.2" fill="#fff" rx="0.6"/>
<rect x="277.9" y="195.0" width="2.1" height="2.8" fill="#fff" rx="0.6"/>
<rect x="277.9" y="203.0" width="2.1" height="2.2" fill="#fff" rx="0.6"/>
<rect x="277.9" y="211.0" width="2.1" height="2.8" fill="#fff" rx="0.6"/>
<rect x="277.9" y="219.0" width="2.1" height="2.2" fill="#fff" rx="0.6"/>
<rect x="277.9" y="227.0" width="2.1" height="2.8" fill="#fff" rx="0.6"/>
<rect x="277.9" y="235.0" width="2.1" height="2.2" fill="#fff" rx="0.6"/>
<rect x="277.9" y="243.0" width="2.1" height="2.8" fill="#fff" rx="0.6"/>
<rect x="277.9" y="251.0" width="2.1" height="2.2" fill="#fff" rx="0.6"/>
<rect x="277.9" y="259.0" width="2.1" height="2.8" fill="#fff" rx="0.6"/>
<rect x="277.9" y="267.0" width="2.1" height="2.2" fill="#fff" rx="0.6"/>
<rect x="277.9" y="275.0" width="2.1" height="2.8" fill="#fff" rx="0.6"/>
<rect x="277.9" y="283.0" width="2.1" height="2.2" fill="#fff" rx="0.6"/>
<rect x="277.9" y="291.0" width="2.1" height="2.8" fill="#fff" rx="0.6"/>
<rect x="277.9" y="299.0" width="2.1" height="2.2" fill="#fff" rx="0.6"/>
<rect x="277.9" y="307.0" width="2.1" height="2.8" fill="#fff" rx="0.6"/>
<rect x="277.9" y="315.0" width="2.1" height="2.2" fill="#fff" rx="0.6"/>
<rect x="277.9" y="323.0" width="2.1" height="2.8" fill="#fff" rx="0.6"/>
<rect x="277.9" y="331.0" width="2.1" height="2.2" fill="#fff" rx="0.6"/>
<rect x="277.9" y="339.0" width="2.1" height="2.8" fill="#fff" rx="0.6"/>
<rect x="277.9" y="347.0" width="2.1" height="2.2" fill="#fff" rx="0.6"/>
<rect x="277.9" y="355.0" width="2.1" height="2.8" fill="#fff" rx="0.6"/>
<rect x="277.9" y="363.0" width="2.1" height="2.2" fill="#fff" rx="0.6"/>
<rect x="277.9" y="371.0" width="2.1" height="2.8" fill="#fff" rx="0.6"/>
<rect x="277.9" y="379.0" width="2.1" height="2.2" fill="#fff" rx="0.6"/>
<rect x="277.9" y="387.0" width="2.1" height="2.8" fill="#fff" rx="0.6"/>
<rect x="277.9" y="395.0" width="2.1" height="2.2" fill="#fff" rx="0.6"/>
<rect x="277.9" y="403.0" width="2.1" height="2.8" fill="#fff" rx="0.6"/>
<rect x="277.9" y="411.0" width="2.1" height="2.2" fill="#fff" rx="0.6"/>
<rect x="277.9" y="419.0" width="2.1" height="2.8" fill="#fff" rx="0.6"/>
<rect x="277.9" y="427.0" width="2.1" height="2.2" fill="#fff" rx="0.6"/>
<rect x="277.9" y="435.0" width="2.1" height="2.8" fill="#fff" rx="0.6"/>
<rect x="277.9" y="443.0" width="2.1" height="2.2" fill="#fff" rx="0.6"/>
<rect x="277.9" y="451.0" width="2.1" height="2.8" fill="#fff" rx="0.6"/>
<rect x="277.9" y="459.0" width="2.1" height="2.2" fill="#fff" rx="0.6"/>
<rect x="277.9" y="467.0" width="2.1" height="2.8" fill="#fff" rx="0.6"/>
<rect x="277.9" y="475.0" width="2.1" height="2.2" fill="#fff" rx="0.6"/>
<rect x="277.9" y="483.0" width="2.1" height="2.8" fill="#fff" rx="0.6"/>
<rect x="277.9" y="491.0" width="2.1" height="2.2" fill="#fff" rx="0.6"/>
<rect x="277.9" y="499.0" width="2.1" height="2.8" fill="#fff" rx="0.6"/>
<rect x="277.9" y="507.0" width="2.1" height="2.2" fill="#fff" rx="0.6"/>
<rect x="277.9" y="515.0" width="2.1" height="2.8" fill="#fff" rx="0.6"/>
<rect x="277.9" y="523.0" width="2.1" height="2.2" fill="#fff" rx="0.6"/>
<rect x="277.9" y="531.0" width="2.1" height="2.8" fill="#fff" rx="0.6"/>
<rect x="277.9" y="539.0" width="2.1" height="2.2" fill="#fff" rx="0.6"/>
<rect x="277.9" y="547.0" width="2.1" height="2.8" fill="#fff" rx="0.6"/>
<rect x="277.9" y="555.0" width="2.1" height="2.2" fill="#fff" rx="0.6"/>
<rect x="277.9" y="563.0" width="2.1" height="2.8" fill="#fff" rx="0.6"/>
<rect x="277.9" y="571.0" width="2.1" height="2.2" fill="#fff" rx="0.6"/>
<rect x="277.9" y="579.0" width="2.1" height="2.8" fill="#fff" rx="0.6"/>
<rect x="277.9" y="587.0" width="2.1" height="2.2" fill="#fff" rx="0.6"/>
<rect x="277.9" y="595.0" width="2.1" height="2.8" fill="#fff" rx="0.6"/>
<rect x="277.9" y="603.0" width="2.1" height="2.2" fill="#fff" rx="0.6"/>
<rect x="277.9" y="611.0" width="2.1" height="2.8" fill="#fff" rx="0.6"/>
<rect x="277.9" y="619.0" width="2.1" height="2.2" fill="#fff" rx="0.6"/>
<rect x="277.9" y="627.0" width="2.1" height="2.8" fill="#fff" rx="0.6"/>
<rect x="277.9" y="635.0" width="2.1" height="2.2" fill="#fff" rx="0.6"/>
<rect x="277.9" y="643.0" width="2.1" height="2.8" fill="#fff" rx="0.6"/>
<rect x="277.9" y="651.0" width="2.1" height="2.2" fill="#fff" rx="0.6"/>
<rect x="277.9" y="659.0" width="2.1" height="2.8" fill="#fff" rx="0.6"/>
<rect x="277.9" y="667.0" width="2.1" height="2.2" fill="#fff" rx="0.6"/>
<rect x="277.9" y="675.0" width="2.1" height="2.8" fill="#fff" rx="0.6"/>
<rect x="277.9" y="683.0" width="2.1" height="2.2" fill="#fff" rx="0.6"/>
<rect x="277.9" y="691.0" width="2.1" height="2.8" fill="#fff" rx="0.6"/>
<rect x="277.9" y="699.0" width="2.1" height="2.2" fill="#fff" rx="0.6"/>
<rect x="277.9" y="707.0" width="2.1" height="2.8" fill="#fff" rx="0.6"/>
<rect x="277.9" y="715.0" width="2.1" height="2.2" fill="#fff" rx="0.6"/>
<rect x="277.9" y="723.0" width="2.1" height="2.8" fill="#fff" rx="0.6"/>
<rect x="277.9" y="731.0" width="2.1" height="2.0" fill="#fff" rx="0.6"/>
<rect x="277.9" y="118.5" width="2.1" height="4.6" fill="#000" rx="0.6"/>
<rect x="277.9" y="134.5" width="2.1" height="4.6" fill="#000" rx="0.6"/>
<rect x="277.9" y="150.5" width="2.1" height="4.6" fill="#000" rx="0.6"/>
<rect x="277.9" y="166.5" width="2.1" height="4.6" fill="#000" rx="0.6"/>
<rect x="277.9" y="182.5" width="2.1" height="4.6" fill="#000" rx="0.6"/>
<rect x="277.9" y="198.5" width="2.1" height="4.6" fill="#000" rx="0.6"/>
<rect x="277.9" y="214.5" width="2.1" height="4.6" fill="#000" rx="0.6"/>
<rect x="277.9" y="230.5" width="2.1" height="4.6" fill="#000" rx="0.6"/>
<rect x="277.9" y="246.5" width="2.1" height="4.6" fill="#000" rx="0.6"/>
<rect x="277.9" y="262.5" width="2.1" height="4.6" fill="#000" rx="0.6"/>
<rect x="277.9" y="278.5" width="2.1" height="4.6" fill="#000" rx="0.6"/>
<rect x="277.9" y="294.5" width="2.1" height="4.6" fill="#000" rx="0.6"/>
<rect x="277.9" y="310.5" width="2.1" height="4.6" fill="#000" rx="0.6"/>
<rect x="277.9" y="326.5" width="2.1" height="4.6" fill="#000" rx="0.6"/>
<rect x="277.9" y="342.5" width="2.1" height="4.6" fill="#000" rx="0.6"/>
<rect x="277.9" y="358.5" width="2.1" height="4.6" fill="#000" rx="0.6"/>
<rect x="277.9" y="374.5" width="2.1" height="4.6" fill="#000" rx="0.6"/>
<rect x="277.9" y="390.5" width="2.1" height="4.6" fill="#000" rx="0.6"/>
<rect x="277.9" y="406.5" width="2.1" height="4.6" fill="#000" rx="0.6"/>
<rect x="277.9" y="422.5" width="2.1" height="4.6" fill="#000" rx="0.6"/>
<rect x="277.9" y="438.5" width="2.1" height="4.6" fill="#000" rx="0.6"/>
<rect x="277.9" y="454.5" width="2.1" height="4.6" fill="#000" rx="0.6"/>
<rect x="277.9" y="470.5" width="2.1" height="4.6" fill="#000" rx="0.6"/>
<rect x="277.9" y="486.5" width="2.1" height="4.6" fill="#000" rx="0.6"/>
<rect x="277.9" y="502.5" width="2.1" height="4.6" fill="#000" rx="0.6"/>
<rect x="277.9" y="518.5" width="2.1" height="4.6" fill="#000" rx="0.6"/>
<rect x="277.9" y="534.5" width="2.1" height="4.6" fill="#000" rx="0.6"/>
<rect x="277.9" y="550.5" width="2.1" height="4.6" fill="#000" rx="0.6"/>
<rect x="277.9" y="566.5" width="2.1" height="4.6" fill="#000" rx="0.6"/>
<rect x="277.9" y="582.5" width="2.1" height="4.6" fill="#000" rx="0.6"/>
<rect x="277.9" y="598.5" width="2.1" height="4.6" fill="#000" rx="0.6"/>
<rect x="277.9" y="614.5" width="2.1" height="4.6" fill="#000" rx="0.6"/>
<rect x="277.9" y="630.5" width="2.1" height="4.6" fill="#000" rx="0.6"/>
<rect x="277.9" y="646.5" width="2.1" height="4.6" fill="#000" rx="0.6"/>
<rect x="277.9" y="662.5" width="2.1" height="4.6" fill="#000" rx="0.6"/>
<rect x="277.9" y="678.5" width="2.1" height="4.6" fill="#000" rx="0.6"/>
<rect x="277.9" y="694.5" width="2.1" height="4.6" fill="#000" rx="0.6"/>
<rect x="277.9" y="710.5" width="2.1" height="4.6" fill="#000" rx="0.6"/>
<rect x="277.9" y="726.5" width="2.1" height="4.6" fill="#000" rx="0.6"/>
<rect x="280.2" y="114.0" width="2.9" height="619.0" fill="#a0a0a0" />
<rect x="283.1" y="114.0" width="0.8" height="619.0" fill="#d0d0d0" />
<rect x="284.6" y="118.0" width="1.4" height="8.5" fill="#f2f2f2" rx="0.6"/>
<rect x="284.6" y="134.0" width="1.4" height="8.5" fill="#f2f2f2" rx="0.6"/>
<rect x="284.6" y="150.0" width="1.4" height="8.5" fill="#f2f2f2" rx="0.6"/>
<rect x="284.6" y="166.0" width="1.4" height="8.5" fill="#f2f2f2" rx="0.6"/>
<rect x="284.6" y="182.0" width="1.4" height="8.5" fill="#f2f2f2" rx="0.6"/>
<rect x="284.6" y="198.0" width="1.4" height="8.5" fill="#f2f2f2" rx="0.6"/>
<rect x="284.6" y="214.0" width="1.4" height="8.5" fill="#f2f2f2" rx="0.6"/>
<rect x="284.6" y="230.0" width="1.4" height="8.5" fill="#f2f2f2" rx="0.6"/>
<rect x="284.6" y="246.0" width="1.4" height="8.5" fill="#f2f2f2" rx="0.6"/>
<rect x="284.6" y="262.0" width="1.4" height="8.5" fill="#f2f2f2" rx="0.6"/>
<rect x="284.6" y="278.0" width="1.4" height="8.5" fill="#f2f2f2" rx="0.6"/>
<rect x="284.6" y="294.0" width="1.4" height="8.5" fill="#f2f2f2" rx="0.6"/>
<rect x="284.6" y="310.0" width="1.4" height="8.5" fill="#f2f2f2" rx="0.6"/>
<rect x="284.6" y="326.0" width="1.4" height="8.5" fill="#f2f2f2" rx="0.6"/>
<rect x="284.6" y="342.0" width="1.4" height="8.5" fill="#f2f2f2" rx="0.6"/>
<rect x="284.6" y="358.0" width="1.4" height="8.5" fill="#f2f2f2" rx="0.6"/>
<rect x="284.6" y="374.0" width="1.4" height="8.5" fill="#f2f2f2" rx="0.6"/>
<rect x="284.6" y="390.0" width="1.4" height="8.5" fill="#f2f2f2" rx="0.6"/>
<rect x="284.6" y="406.0" width="1.4" height="8.5" fill="#f2f2f2" rx="0.6"/>
<rect x="284.6" y="422.0" width="1.4" height="8.5" fill="#f2f2f2" rx="0.6"/>
<rect x="284.6" y="438.0" width="1.4" height="8.5" fill="#f2f2f2" rx="0.6"/>
<rect x="284.6" y="454.0" width="1.4" height="8.5" fill="#f2f2f2" rx="0.6"/>
<rect x="284.6" y="470.0" width="1.4" height="8.5" fill="#f2f2f2" rx="0.6"/>
<rect x="284.6" y="486.0" width="1.4" height="8.5" fill="#f2f2f2" rx="0.6"/>
<rect x="284.6" y="502.0" width="1.4" height="8.5" fill="#f2f2f2" rx="0.6"/>
<rect x="284.6" y="518.0" width="1.4" height="8.5" fill="#f2f2f2" rx="0.6"/>
<rect x="284.6" y="534.0" width="1.4" height="8.5" fill="#f2f2f2" rx="0.6"/>
<rect x="284.6" y="550.0" width="1.4" height="8.5" fill="#f2f2f2" rx="0.6"/>
<rect x="284.6" y="566.0" width="1.4" height="8.5" fill="#f2f2f2" rx="0.6"/>
<rect x="284.6" y="582.0" width="1.4" height="8.5" fill="#f2f2f2" rx="0.6"/>
<rect x="284.6" y="598.0" width="1.4" height="8.5" fill="#f2f2f2" rx="0.6"/>
<rect x="284.6" y="614.0" width="1.4" height="8.5" fill="#f2f2f2" rx="0.6"/>
<rect x="284.6" y="630.0" width="1.4" height="8.5" fill="#f2f2f2" rx="0.6"/>
<rect x="284.6" y="646.0" width="1.4" height="8.5" fill="#f2f2f2" rx="0.6"/>
<rect x="284.6" y="662.0" width="1.4" height="8.5" fill="#f2f2f2" rx="0.6"/>
<rect x="284.6" y="678.0" width="1.4" height="8.5" fill="#f2f2f2" rx="0.6"/>
<rect x="284.6" y="694.0" width="1.4" height="8.5" fill="#f2f2f2" rx="0.6"/>
<rect x="284.6" y="710.0" width="1.4" height="8.5" fill="#f2f2f2" rx="0.6"/>
<rect x="284.6" y="726.0" width="1.4" height="7.0" fill="#f2f2f2" rx="0.6"/>
<rect x="286.6" y="114.0" width="2.4" height="619.0" fill="#959595" />
<rect x="584.3" y="95.0" width="14.5" height="618.0" fill="#000" />
<rect x="585.3" y="95.0" width="2.5" height="618.0" fill="#6a6a6a" />
<rect x="585.3" y="96.0" width="2.5" height="2.8" fill="#fff" rx="0.6"/>
<rect x="585.3" y="104.0" width="2.5" height="2.2" fill="#fff" rx="0.6"/>
<rect x="585.3" y="112.0" width="2.5" height="2.8" fill="#fff" rx="0.6"/>
<rect x="585.3" y="120.0" width="2.5" height="2.2" fill="#fff" rx="0.6"/>
<rect x="585.3" y="128.0" width="2.5" height="2.8" fill="#fff" rx="0.6"/>
<rect x="585.3" y="136.0" width="2.5" height="2.2" fill="#fff" rx="0.6"/>
<rect x="585.3" y="144.0" width="2.5" height="2.8" fill="#fff" rx="0.6"/>
<rect x="585.3" y="152.0" width="2.5" height="2.2" fill="#fff" rx="0.6"/>
<rect x="585.3" y="160.0" width="2.5" height="2.8" fill="#fff" rx="0.6"/>
<rect x="585.3" y="168.0" width="2.5" height="2.2" fill="#fff" rx="0.6"/>
<rect x="585.3" y="176.0" width="2.5" height="2.8" fill="#fff" rx="0.6"/>
<rect x="585.3" y="184.0" width="2.5" height="2.2" fill="#fff" rx="0.6"/>
<rect x="585.3" y="192.0" width="2.5" height="2.8" fill="#fff" rx="0.6"/>
<rect x="585.3" y="200.0" width="2.5" height="2.2" fill="#fff" rx="0.6"/>
<rect x="585.3" y="208.0" width="2.5" height="2.8" fill="#fff" rx="0.6"/>
<rect x="585.3" y="216.0" width="2.5" height="2.2" fill="#fff" rx="0.6"/>
<rect x="585.3" y="224.0" width="2.5" height="2.8" fill="#fff" rx="0.6"/>
<rect x="585.3" y="232.0" width="2.5" height="2.2" fill="#fff" rx="0.6"/>
<rect x="585.3" y="240.0" width="2.5" height="2.8" fill="#fff" rx="0.6"/>
<rect x="585.3" y="248.0" width="2.5" height="2.2" fill="#fff" rx="0.6"/>
<rect x="585.3" y="256.0" width="2.5" height="2.8" fill="#fff" rx="0.6"/>
<rect x="585.3" y="264.0" width="2.5" height="2.2" fill="#fff" rx="0.6"/>
<rect x="585.3" y="272.0" width="2.5" height="2.8" fill="#fff" rx="0.6"/>
<rect x="585.3" y="280.0" width="2.5" height="2.2" fill="#fff" rx="0.6"/>
<rect x="585.3" y="288.0" width="2.5" height="2.8" fill="#fff" rx="0.6"/>
<rect x="585.3" y="296.0" width="2.5" height="2.2" fill="#fff" rx="0.6"/>
<rect x="585.3" y="304.0" width="2.5" height="2.8" fill="#fff" rx="0.6"/>
<rect x="585.3" y="312.0" width="2.5" height="2.2" fill="#fff" rx="0.6"/>
<rect x="585.3" y="320.0" width="2.5" height="2.8" fill="#fff" rx="0.6"/>
<rect x="585.3" y="328.0" width="2.5" height="2.2" fill="#fff" rx="0.6"/>
<rect x="585.3" y="336.0" width="2.5" height="2.8" fill="#fff" rx="0.6"/>
<rect x="585.3" y="344.0" width="2.5" height="2.2" fill="#fff" rx="0.6"/>
<rect x="585.3" y="352.0" width="2.5" height="2.8" fill="#fff" rx="0.6"/>
<rect x="585.3" y="360.0" width="2.5" height="2.2" fill="#fff" rx="0.6"/>
<rect x="585.3" y="368.0" width="2.5" height="2.8" fill="#fff" rx="0.6"/>
<rect x="585.3" y="376.0" width="2.5" height="2.2" fill="#fff" rx="0.6"/>
<rect x="585.3" y="384.0" width="2.5" height="2.8" fill="#fff" rx="0.6"/>
<rect x="585.3" y="392.0" width="2.5" height="2.2" fill="#fff" rx="0.6"/>
<rect x="585.3" y="400.0" width="2.5" height="2.8" fill="#fff" rx="0.6"/>
<rect x="585.3" y="408.0" width="2.5" height="2.2" fill="#fff" rx="0.6"/>
<rect x="585.3" y="416.0" width="2.5" height="2.8" fill="#fff" rx="0.6"/>
<rect x="585.3" y="424.0" width="2.5" height="2.2" fill="#fff" rx="0.6"/>
<rect x="585.3" y="432.0" width="2.5" height="2.8" fill="#fff" rx="0.6"/>
<rect x="585.3" y="440.0" width="2.5" height="2.2" fill="#fff" rx="0.6"/>
<rect x="585.3" y="448.0" width="2.5" height="2.8" fill="#fff" rx="0.6"/>
<rect x="585.3" y="456.0" width="2.5" height="2.2" fill="#fff" rx="0.6"/>
<rect x="585.3" y="464.0" width="2.5" height="2.8" fill="#fff" rx="0.6"/>
<rect x="585.3" y="472.0" width="2.5" height="2.2" fill="#fff" rx="0.6"/>
<rect x="585.3" y="480.0" width="2.5" height="2.8" fill="#fff" rx="0.6"/>
<rect x="585.3" y="488.0" width="2.5" height="2.2" fill="#fff" rx="0.6"/>
<rect x="585.3" y="496.0" width="2.5" height="2.8" fill="#fff" rx="0.6"/>
<rect x="585.3" y="504.0" width="2.5" height="2.2" fill="#fff" rx="0.6"/>
<rect x="585.3" y="512.0" width="2.5" height="2.8" fill="#fff" rx="0.6"/>
<rect x="585.3" y="520.0" width="2.5" height="2.2" fill="#fff" rx="0.6"/>
<rect x="585.3" y="528.0" width="2.5" height="2.8" fill="#fff" rx="0.6"/>
<rect x="585.3" y="536.0" width="2.5" height="2.2" fill="#fff" rx="0.6"/>
<rect x="585.3" y="544.0" width="2.5" height="2.8" fill="#fff" rx="0.6"/>
<rect x="585.3" y="552.0" width="2.5" height="2.2" fill="#fff" rx="0.6"/>
<rect x="585.3" y="560.0" width="2.5" height="2.8" fill="#fff" rx="0.6"/>
<rect x="585.3" y="568.0" width="2.5" height="2.2" fill="#fff" rx="0.6"/>
<rect x="585.3" y="576.0" width="2.5" height="2.8" fill="#fff" rx="0.6"/>
<rect x="585.3" y="584.0" width="2.5" height="2.2" fill="#fff" rx="0.6"/>
<rect x="585.3" y="592.0" width="2.5" height="2.8" fill="#fff" rx="0.6"/>
<rect x="585.3" y="600.0" width="2.5" height="2.2" fill="#fff" rx="0.6"/>
<rect x="585.3" y="608.0" width="2.5" height="2.8" fill="#fff" rx="0.6"/>
<rect x="585.3" y="616.0" width="2.5" height="2.2" fill="#fff" rx="0.6"/>
<rect x="585.3" y="624.0" width="2.5" height="2.8" fill="#fff" rx="0.6"/>
<rect x="585.3" y="632.0" width="2.5" height="2.2" fill="#fff" rx="0.6"/>
<rect x="585.3" y="640.0" width="2.5" height="2.8" fill="#fff" rx="0.6"/>
<rect x="585.3" y="648.0" width="2.5" height="2.2" fill="#fff" rx="0.6"/>
<rect x="585.3" y="656.0" width="2.5" height="2.8" fill="#fff" rx="0.6"/>
<rect x="585.3" y="664.0" width="2.5" height="2.2" fill="#fff" rx="0.6"/>
<rect x="585.3" y="672.0" width="2.5" height="2.8" fill="#fff" rx="0.6"/>
<rect x="585.3" y="680.0" width="2.5" height="2.2" fill="#fff" rx="0.6"/>
<rect x="585.3" y="688.0" width="2.5" height="2.8" fill="#fff" rx="0.6"/>
<rect x="585.3" y="696.0" width="2.5" height="2.2" fill="#fff" rx="0.6"/>
<rect x="585.3" y="704.0" width="2.5" height="2.8" fill="#fff" rx="0.6"/>
<rect x="585.3" y="712.0" width="2.5" height="1.0" fill="#fff" rx="0.6"/>
<rect x="585.3" y="99.5" width="2.5" height="4.6" fill="#000" rx="0.6"/>
<rect x="585.3" y="115.5" width="2.5" height="4.6" fill="#000" rx="0.6"/>
<rect x="585.3" y="131.5" width="2.5" height="4.6" fill="#000" rx="0.6"/>
<rect x="585.3" y="147.5" width="2.5" height="4.6" fill="#000" rx="0.6"/>
<rect x="585.3" y="163.5" width="2.5" height="4.6" fill="#000" rx="0.6"/>
<rect x="585.3" y="179.5" width="2.5" height="4.6" fill="#000" rx="0.6"/>
<rect x="585.3" y="195.5" width="2.5" height="4.6" fill="#000" rx="0.6"/>
<rect x="585.3" y="211.5" width="2.5" height="4.6" fill="#000" rx="0.6"/>
<rect x="585.3" y="227.5" width="2.5" height="4.6" fill="#000" rx="0.6"/>
<rect x="585.3" y="243.5" width="2.5" height="4.6" fill="#000" rx="0.6"/>
<rect x="585.3" y="259.5" width="2.5" height="4.6" fill="#000" rx="0.6"/>
<rect x="585.3" y="275.5" width="2.5" height="4.6" fill="#000" rx="0.6"/>
<rect x="585.3" y="291.5" width="2.5" height="4.6" fill="#000" rx="0.6"/>
<rect x="585.3" y="307.5" width="2.5" height="4.6" fill="#000" rx="0.6"/>
<rect x="585.3" y="323.5" width="2.5" height="4.6" fill="#000" rx="0.6"/>
<rect x="585.3" y="339.5" width="2.5" height="4.6" fill="#000" rx="0.6"/>
<rect x="585.3" y="355.5" width="2.5" height="4.6" fill="#000" rx="0.6"/>
<rect x="585.3" y="371.5" width="2.5" height="4.6" fill="#000" rx="0.6"/>
<rect x="585.3" y="387.5" width="2.5" height="4.6" fill="#000" rx="0.6"/>
<rect x="585.3" y="403.5" width="2.5" height="4.6" fill="#000" rx="0.6"/>
<rect x="585.3" y="419.5" width="2.5" height="4.6" fill="#000" rx="0.6"/>
<rect x="585.3" y="435.5" width="2.5" height="4.6" fill="#000" rx="0.6"/>
<rect x="585.3" y="451.5" width="2.5" height="4.6" fill="#000" rx="0.6"/>
<rect x="585.3" y="467.5" width="2.5" height="4.6" fill="#000" rx="0.6"/>
<rect x="585.3" y="483.5" width="2.5" height="4.6" fill="#000" rx="0.6"/>
<rect x="585.3" y="499.5" width="2.5" height="4.6" fill="#000" rx="0.6"/>
<rect x="585.3" y="515.5" width="2.5" height="4.6" fill="#000" rx="0.6"/>
<rect x="585.3" y="531.5" width="2.5" height="4.6" fill="#000" rx="0.6"/>
<rect x="585.3" y="547.5" width="2.5" height="4.6" fill="#000" rx="0.6"/>
<rect x="585.3" y="563.5" width="2.5" height="4.6" fill="#000" rx="0.6"/>
<rect x="585.3" y="579.5" width="2.5" height="4.6" fill="#000" rx="0.6"/>
<rect x="585.3" y="595.5" width="2.5" height="4.6" fill="#000" rx="0.6"/>
<rect x="585.3" y="611.5" width="2.5" height="4.6" fill="#000" rx="0.6"/>
<rect x="585.3" y="627.5" width="2.5" height="4.6" fill="#000" rx="0.6"/>
<rect x="585.3" y="643.5" width="2.5" height="4.6" fill="#000" rx="0.6"/>
<rect x="585.3" y="659.5" width="2.5" height="4.6" fill="#000" rx="0.6"/>
<rect x="585.3" y="675.5" width="2.5" height="4.6" fill="#000" rx="0.6"/>
<rect x="585.3" y="691.5" width="2.5" height="4.6" fill="#000" rx="0.6"/>
<rect x="585.3" y="707.5" width="2.5" height="4.6" fill="#000" rx="0.6"/>
<rect x="588.1" y="95.0" width="3.0" height="618.0" fill="#999" />
<rect x="592.6" y="99.0" width="1.4" height="5.5" fill="#f2f2f2" rx="0.6"/>
<rect x="592.6" y="115.0" width="1.4" height="5.5" fill="#f2f2f2" rx="0.6"/>
<rect x="592.6" y="131.0" width="1.4" height="5.5" fill="#f2f2f2" rx="0.6"/>
<rect x="592.6" y="147.0" width="1.4" height="5.5" fill="#f2f2f2" rx="0.6"/>
<rect x="592.6" y="163.0" width="1.4" height="5.5" fill="#f2f2f2" rx="0.6"/>
<rect x="592.6" y="179.0" width="1.4" height="5.5" fill="#f2f2f2" rx="0.6"/>
<rect x="592.6" y="195.0" width="1.4" height="5.5" fill="#f2f2f2" rx="0.6"/>
<rect x="592.6" y="211.0" width="1.4" height="5.5" fill="#f2f2f2" rx="0.6"/>
<rect x="592.6" y="227.0" width="1.4" height="5.5" fill="#f2f2f2" rx="0.6"/>
<rect x="592.6" y="243.0" width="1.4" height="5.5" fill="#f2f2f2" rx="0.6"/>
<rect x="592.6" y="259.0" width="1.4" height="5.5" fill="#f2f2f2" rx="0.6"/>
<rect x="592.6" y="275.0" width="1.4" height="5.5" fill="#f2f2f2" rx="0.6"/>
<rect x="592.6" y="291.0" width="1.4" height="5.5" fill="#f2f2f2" rx="0.6"/>
<rect x="592.6" y="307.0" width="1.4" height="5.5" fill="#f2f2f2" rx="0.6"/>
<rect x="592.6" y="323.0" width="1.4" height="5.5" fill="#f2f2f2" rx="0.6"/>
<rect x="592.6" y="339.0" width="1.4" height="5.5" fill="#f2f2f2" rx="0.6"/>
<rect x="592.6" y="355.0" width="1.4" height="5.5" fill="#f2f2f2" rx="0.6"/>
<rect x="592.6" y="371.0" width="1.4" height="5.5" fill="#f2f2f2" rx="0.6"/>
<rect x="592.6" y="387.0" width="1.4" height="5.5" fill="#f2f2f2" rx="0.6"/>
<rect x="592.6" y="403.0" width="1.4" height="5.5" fill="#f2f2f2" rx="0.6"/>
<rect x="592.6" y="419.0" width="1.4" height="5.5" fill="#f2f2f2" rx="0.6"/>
<rect x="592.6" y="435.0" width="1.4" height="5.5" fill="#f2f2f2" rx="0.6"/>
<rect x="592.6" y="451.0" width="1.4" height="5.5" fill="#f2f2f2" rx="0.6"/>
<rect x="592.6" y="467.0" width="1.4" height="5.5" fill="#f2f2f2" rx="0.6"/>
<rect x="592.6" y="483.0" width="1.4" height="5.5" fill="#f2f2f2" rx="0.6"/>
<rect x="592.6" y="499.0" width="1.4" height="5.5" fill="#f2f2f2" rx="0.6"/>
<rect x="592.6" y="515.0" width="1.4" height="5.5" fill="#f2f2f2" rx="0.6"/>
<rect x="592.6" y="531.0" width="1.4" height="5.5" fill="#f2f2f2" rx="0.6"/>
<rect x="592.6" y="547.0" width="1.4" height="5.5" fill="#f2f2f2" rx="0.6"/>
<rect x="592.6" y="563.0" width="1.4" height="5.5" fill="#f2f2f2" rx="0.6"/>
<rect x="592.6" y="579.0" width="1.4" height="5.5" fill="#f2f2f2" rx="0.6"/>
<rect x="592.6" y="595.0" width="1.4" height="5.5" fill="#f2f2f2" rx="0.6"/>
<rect x="592.6" y="611.0" width="1.4" height="5.5" fill="#f2f2f2" rx="0.6"/>
<rect x="592.6" y="627.0" width="1.4" height="5.5" fill="#f2f2f2" rx="0.6"/>
<rect x="592.6" y="643.0" width="1.4" height="5.5" fill="#f2f2f2" rx="0.6"/>
<rect x="592.6" y="659.0" width="1.4" height="5.5" fill="#f2f2f2" rx="0.6"/>
<rect x="592.6" y="675.0" width="1.4" height="5.5" fill="#f2f2f2" rx="0.6"/>
<rect x="592.6" y="691.0" width="1.4" height="5.5" fill="#f2f2f2" rx="0.6"/>
<rect x="592.6" y="707.0" width="1.4" height="5.5" fill="#f2f2f2" rx="0.6"/>
<rect x="594.9" y="95.0" width="2.0" height="618.0" fill="#999" />
<polygon points="277.1,107.3 283.4,111.4 283.4,115.1 277.1,113.0" fill="#000" stroke="#000" stroke-width="1.2" stroke-linejoin="round" />
<polygon points="283.4,111.4 291.2,110.1 291.2,114.7 283.4,115.1" fill="#fff" stroke="#000" stroke-width="1.3" stroke-linejoin="round" />
<polygon points="277.1,107.3 287.7,106.5 291.2,110.1 283.4,111.4" fill="#fff" stroke="#000" stroke-width="1.3" stroke-linejoin="round" />
<polygon points="584.5,88.3 590.8,92.4 590.8,96.1 584.5,94.0" fill="#000" stroke="#000" stroke-width="1.2" stroke-linejoin="round" />
<polygon points="590.8,92.4 598.4,91.1 598.4,95.7 590.8,96.1" fill="#fff" stroke="#000" stroke-width="1.3" stroke-linejoin="round" />
<polygon points="584.5,88.3 594.9,87.5 598.4,91.1 590.8,92.4" fill="#fff" stroke="#000" stroke-width="1.3" stroke-linejoin="round" />
<polygon points="266.0,727.0 268.0,725.0 278.0,725.0 278.0,730.0 268.0,730.0" fill="#fff" stroke="#000" stroke-width="1.2" stroke-linejoin="round" />
<line x1="269.0" y1="727.5" x2="277.0" y2="727.5" stroke="#555" stroke-width="0.9" />
<polygon points="290.7,720.5 294.2,726.5 293.7,729.5 290.7,730.5" fill="#fff" stroke="#000" stroke-width="1.1" stroke-linejoin="round" />
<polyline points="277.0,730.5 280.0,733.0 290.2,733.0 291.2,730.5" fill="none" stroke="#000" stroke-width="1.4" stroke-linejoin="round" />
<rect x="286.7" y="733.0" width="3.6" height="13.0" fill="#fff" stroke="#000" stroke-width="1.1"/>
<line x1="286.7" y1="738.5" x2="290.3" y2="738.5" stroke="#000" stroke-width="1.2" />
<line x1="286.7" y1="741.5" x2="290.3" y2="741.5" stroke="#000" stroke-width="1.2" />
<polygon points="573.0,708.5 575.0,706.5 585.4,706.5 585.4,711.5 575.0,711.5" fill="#fff" stroke="#000" stroke-width="1.2" stroke-linejoin="round" />
<line x1="576.0" y1="709.0" x2="584.4" y2="709.0" stroke="#555" stroke-width="0.9" />
<polygon points="597.8,702.0 601.3,708.0 600.8,711.0 597.8,712.0" fill="#fff" stroke="#000" stroke-width="1.1" stroke-linejoin="round" />
<polyline points="584.4,712.0 587.4,714.5 597.3,714.5 598.3,712.0" fill="none" stroke="#000" stroke-width="1.4" stroke-linejoin="round" />
<rect x="593.8" y="714.5" width="3.6" height="13.0" fill="#fff" stroke="#000" stroke-width="1.1"/>
<line x1="593.8" y1="720.0" x2="597.4" y2="720.0" stroke="#000" stroke-width="1.2" />
<line x1="593.8" y1="723.0" x2="597.4" y2="723.0" stroke="#000" stroke-width="1.2" />
<rect x="250.5" y="686.0" width="4.0" height="15.0" fill="#fff" />
<line x1="252.5" y1="686.0" x2="252.5" y2="701.0" stroke="#000" stroke-width="1.0" />
<path d="M255,688 L258,690 L258.5,700 L255.5,700 Z" fill="#222"/>
<path d="M256.5,691 L258.5,692.5 L258.5,697 L257,697 Z" fill="#000"/>
<polygon points="237.0,701.5 263.0,700.0 265.0,702.5 238.0,704.0" fill="#fff" stroke="#000" stroke-width="1.1" stroke-linejoin="round" />
<ellipse cx="241.5" cy="700.5" rx="2.5" ry="1.6" fill="#fff" stroke="#000" stroke-width="1.0" />
<rect x="240.5" y="704.0" width="2.8" height="8.0" fill="#fff" stroke="#000" stroke-width="1.0"/>
<rect x="240.0" y="712.0" width="3.8" height="6.0" fill="#fff" stroke="#000" stroke-width="1.1"/>
<line x1="240.0" y1="715.0" x2="243.8" y2="715.0" stroke="#000" stroke-width="1.0" />
<path d="M223.3,692.6 L239.5,692.8 L239.5,696.6 L223.3,697.4 Z" fill="#111"/>
<path d="M222.8,692.2 L224.6,692.4 L224.6,697.4 L222.8,697.8 Z" fill="#000"/>
<line x1="255.0" y1="692.0" x2="255.0" y2="700.0" stroke="#000" stroke-width="1.0" />
<line x1="258.0" y1="694.0" x2="258.0" y2="700.0" stroke="#000" stroke-width="1.0" />
<g transform="translate(363.2,332.0) rotate(53.5)"><rect x="-12.0" y="-2.8" width="24.0" height="5.6" rx="2.8" fill="#fff" stroke="#000" stroke-width="2.0"/><rect x="-7.2" y="-2.8" width="14.4" height="5.6" fill="#111"/><rect x="-4.8" y="-0.8" width="9.6" height="1.6" fill="#fff"/><rect x="-10.1" y="-1" width="1.8" height="2" fill="#fff"/><rect x="8.3" y="-1" width="1.8" height="2" fill="#fff"/><circle cx="-18.0" cy="0" r="2.5" fill="#777" stroke="#444" stroke-width="0.9"/><circle cx="-18.0" cy="0" r="0.9" fill="#ccc"/><circle cx="18.0" cy="0" r="2.5" fill="#777" stroke="#444" stroke-width="0.9"/><circle cx="18.0" cy="0" r="0.9" fill="#ccc"/></g>
<g transform="translate(435.1,327.5) rotate(-55.0)"><rect x="-12.0" y="-2.8" width="24.0" height="5.6" rx="2.8" fill="#fff" stroke="#000" stroke-width="2.0"/><rect x="-7.2" y="-2.8" width="14.4" height="5.6" fill="#111"/><rect x="-4.8" y="-0.8" width="9.6" height="1.6" fill="#fff"/><rect x="-10.1" y="-1" width="1.8" height="2" fill="#fff"/><rect x="8.3" y="-1" width="1.8" height="2" fill="#fff"/><circle cx="-18.0" cy="0" r="2.5" fill="#777" stroke="#444" stroke-width="0.9"/><circle cx="-18.0" cy="0" r="0.9" fill="#ccc"/><circle cx="18.0" cy="0" r="2.5" fill="#777" stroke="#444" stroke-width="0.9"/><circle cx="18.0" cy="0" r="0.9" fill="#ccc"/></g>
<path d="M236.8,409.0 Q235.8,410.8 236.8,412.6 L238.5,412.4 L238.5,411.8 L241,411.8 L241,409.8 L238.5,409.8 L238.5,409.2 Z" fill="#111"/>
<path d="M236.8,440.8 Q235.8,442.6 236.8,444.4 L238.5,444.2 L238.5,443.6 L241,443.6 L241,441.6 L238.5,441.6 L238.5,441.0 Z" fill="#111"/>
<circle cx="588.0" cy="93.5" r="19.0" fill="none" stroke="#3a3a3a" stroke-width="1.1" />
<circle cx="435.0" cy="328.0" r="25.0" fill="none" stroke="#3a3a3a" stroke-width="1.1" />
<circle cx="245.5" cy="425.7" r="23.0" fill="none" stroke="#3a3a3a" stroke-width="1.1" />
<circle cx="244.0" cy="699.0" r="24.5" fill="none" stroke="#3a3a3a" stroke-width="1.1" />
<line x1="622.0" y1="80.0" x2="637.0" y2="73.6" stroke="#333" stroke-width="1.1" />
<line x1="477.5" y1="318.5" x2="648.0" y2="274.0" stroke="#333" stroke-width="1.1" />
<line x1="145.0" y1="404.4" x2="204.0" y2="420.6" stroke="#333" stroke-width="1.1" />
<line x1="145.0" y1="674.0" x2="202.5" y2="691.5" stroke="#333" stroke-width="1.1" />
<line x1="16.0" y1="257.0" x2="204.0" y2="257.0" stroke="#111" stroke-width="2.2" />
<line x1="204.0" y1="257.0" x2="345.5" y2="314.2" stroke="#333" stroke-width="1.1" />
<line x1="111.0" y1="532.6" x2="170.0" y2="532.6" stroke="#111" stroke-width="2.2" />
<line x1="170.0" y1="532.6" x2="240.9" y2="481.7" stroke="#333" stroke-width="1.1" />
<line x1="666.0" y1="580.8" x2="733.0" y2="580.8" stroke="#111" stroke-width="2.2" />
<line x1="666.0" y1="580.8" x2="539.4" y2="533.4" stroke="#333" stroke-width="1.1" />
<clipPath id="c1"><circle cx="684.3" cy="55" r="48"/></clipPath>
<g clip-path="url(#c1)">
<line x1="630.0" y1="21.0" x2="684.6" y2="66.8" stroke="#000" stroke-width="1.3" />
<line x1="630.0" y1="68.5" x2="684.6" y2="67.3" stroke="#000" stroke-width="1.2" />
<ellipse cx="668.0" cy="65.5" rx="4.8" ry="1.7" fill="#fff" stroke="#000" stroke-width="1.0" />
<line x1="630.0" y1="92.5" x2="684.6" y2="95.7" stroke="#000" stroke-width="1.2" />
<line x1="684.3" y1="67.0" x2="684.3" y2="100.0" stroke="#000" stroke-width="1.4" />
<rect x="684.6" y="55.0" width="26.3" height="50.0" fill="#fff" stroke="#000" stroke-width="1.4"/>
<rect x="688.4" y="55.0" width="0.8" height="50.0" fill="#000" />
<rect x="691.6" y="55.0" width="1.2" height="50.0" fill="#888" />
<rect x="694.3" y="55.0" width="1.8" height="50.0" fill="#000" />
<rect x="699.0" y="55.0" width="0.8" height="50.0" fill="#000" />
<rect x="701.4" y="55.0" width="1.6" height="50.0" fill="#000" />
<rect x="705.0" y="55.0" width="0.8" height="50.0" fill="#000" />
<rect x="707.6" y="55.0" width="0.8" height="50.0" fill="#555" />
<rect x="695.9" y="70.0" width="5.3" height="14.0" fill="#fff" stroke="#000" stroke-width="0.9"/>
<polygon points="675.5,35.7 694.3,34.1 697.5,36.2 702.8,37.3 711.4,44.8 711.4,54.4 684.6,55.5 684.6,47.5 677.0,45.0" fill="#fff" stroke="#000" stroke-width="1.4" stroke-linejoin="round" />
<line x1="684.6" y1="47.5" x2="711.4" y2="45.9" stroke="#000" stroke-width="1.3" />
<polyline points="675.5,35.7 675.5,48.5 678.5,49.5 679.0,53.5 684.6,55.5" fill="none" stroke="#000" stroke-width="1.2" stroke-linejoin="round" />
<polyline points="677.0,38.0 684.6,47.5" fill="none" stroke="#000" stroke-width="1.1" stroke-linejoin="round" />
</g>
<circle cx="684.3" cy="55.0" r="48.5" fill="none" stroke="#3a3a3a" stroke-width="1.2" />
<clipPath id="c2"><circle cx="724.9" cy="262.4" r="63.3"/></clipPath>
<g clip-path="url(#c2)">
<line x1="676.0" y1="335.0" x2="695.1" y2="305.7" stroke="#444" stroke-width="0.9" />
<line x1="755.4" y1="213.7" x2="774.5" y2="184.4" stroke="#444" stroke-width="0.9" />
<line x1="678.5" y1="336.6" x2="697.6" y2="307.3" stroke="#444" stroke-width="0.9" />
<line x1="757.9" y1="215.3" x2="777.0" y2="186.0" stroke="#444" stroke-width="0.9" />
<g transform="translate(726.5,260.5) rotate(-56.8)"><rect x="-46" y="-2.3" width="92" height="4.6" fill="#fff" stroke="#333" stroke-width="0.9"/><path d="M-25,-7 L25,-7 Q30,-7 30,-3 L30,3 Q30,7 25,7 L-25,7 Q-30,7 -30,3 L-30,-3 Q-30,-7 -25,-7 Z" fill="#fff" stroke="#000" stroke-width="1.6"/><line x1="-21" y1="-7" x2="-21" y2="7" stroke="#000" stroke-width="1.4"/><line x1="21" y1="-7" x2="21" y2="7" stroke="#000" stroke-width="1.4"/><line x1="-21" y1="-4.6" x2="21" y2="-4.6" stroke="#222" stroke-width="0.8"/><line x1="-21" y1="-3" x2="21" y2="-3" stroke="#222" stroke-width="0.8"/><rect x="-17" y="-1.2" width="34" height="6" fill="#fff" stroke="#000" stroke-width="1.1"/><rect x="-16" y="-0.2" width="6" height="4.4" fill="#fff" stroke="#000" stroke-width="0.9"/><rect x="10" y="-0.2" width="6" height="4.4" fill="#fff" stroke="#000" stroke-width="0.9"/></g>
<g><path d="M745.3,215.2 C744.2,218.2 746,220.6 748.6,220.9 L753.6,226.6 C756.6,228.6 760.4,226.6 761.2,222.4 C761.8,218.4 760.8,214.4 757.8,212.2 C755.2,210.6 752.2,211.6 750.6,213.4 C749,212.4 746.4,212.8 745.3,215.2 Z" fill="#fff" stroke="#000" stroke-width="1.2"/><path d="M747.2,215.2 C749.5,217.5 752,219.4 755.4,218.6 M749.6,222.2 C753,221.6 756.6,219.4 758.6,215.6 M752.2,213.2 L757.6,224.8" fill="none" stroke="#000" stroke-width="1"/></g>
<g transform="translate(1453,521) scale(-1,-1)"><path d="M745.3,215.2 C744.2,218.2 746,220.6 748.6,220.9 L753.6,226.6 C756.6,228.6 760.4,226.6 761.2,222.4 C761.8,218.4 760.8,214.4 757.8,212.2 C755.2,210.6 752.2,211.6 750.6,213.4 C749,212.4 746.4,212.8 745.3,215.2 Z" fill="#fff" stroke="#000" stroke-width="1.2"/><path d="M747.2,215.2 C749.5,217.5 752,219.4 755.4,218.6 M749.6,222.2 C753,221.6 756.6,219.4 758.6,215.6 M752.2,213.2 L757.6,224.8" fill="none" stroke="#000" stroke-width="1"/></g>
</g>
<circle cx="724.9" cy="262.4" r="63.9" fill="none" stroke="#3a3a3a" stroke-width="1.2" />
<clipPath id="c3"><circle cx="78.8" cy="403.6" r="59.5"/></clipPath>
<g clip-path="url(#c3)">
<rect x="66.3" y="340.0" width="0.9" height="130.0" fill="#000" />
<rect x="73.2" y="340.0" width="0.9" height="130.0" fill="#000" />
<rect x="75.8" y="340.0" width="0.9" height="130.0" fill="#000" />
<rect x="78.4" y="340.0" width="1.0" height="130.0" fill="#000" />
<rect x="80.2" y="340.0" width="3.0" height="130.0" fill="#000" />
<rect x="88.0" y="340.0" width="0.9" height="130.0" fill="#000" />
<rect x="91.5" y="340.0" width="0.9" height="130.0" fill="#000" />
<rect x="100.0" y="340.0" width="0.9" height="130.0" fill="#000" />
<rect x="68.2" y="355.0" width="2.2" height="4.0" fill="#fff" stroke="#000" stroke-width="0.8" rx="1"/>
<rect x="68.2" y="397.0" width="2.2" height="4.0" fill="#fff" stroke="#000" stroke-width="0.8" rx="1"/>
<rect x="68.2" y="437.0" width="2.2" height="4.0" fill="#fff" stroke="#000" stroke-width="0.8" rx="1"/>
<rect x="67.3" y="371" width="4" height="9" rx="1.5" fill="#fff" stroke="#000" stroke-width="1"/>
<rect x="67.3" y="413" width="4" height="9" rx="1.5" fill="#fff" stroke="#000" stroke-width="1"/>
<rect x="67.3" y="453" width="4" height="9" rx="1.5" fill="#fff" stroke="#000" stroke-width="1"/>
<line x1="84.8" y1="340.0" x2="84.8" y2="356.0" stroke="#000" stroke-width="1.0" />
<line x1="88.8" y1="340.0" x2="88.8" y2="357.0" stroke="#000" stroke-width="1.0" />
<polyline points="92.0,344.0 92.0,357.5 94.4,350.0 94.4,358.0" fill="none" stroke="#000" stroke-width="1.1" stroke-linejoin="round" />
<line x1="99.0" y1="340.0" x2="99.0" y2="359.0" stroke="#000" stroke-width="1.6" />
<polygon points="82.4,355.2 98.4,358.8 142.0,397.0 142.0,430.0 83.2,377.3" fill="#fff" stroke="none" stroke-width="0" stroke-linejoin="round" />
<line x1="82.4" y1="355.2" x2="98.4" y2="358.8" stroke="#000" stroke-width="1.2" />
<line x1="98.4" y1="358.8" x2="139.0" y2="394.6" stroke="#000" stroke-width="1.6" />
<line x1="83.2" y1="356.4" x2="139.0" y2="406.1" stroke="#000" stroke-width="1.2" />
<line x1="83.2" y1="361.2" x2="139.0" y2="410.8" stroke="#000" stroke-width="1.0" />
<line x1="83.2" y1="377.3" x2="132.0" y2="420.5" stroke="#000" stroke-width="1.6" />
<line x1="88.5" y1="380.0" x2="88.5" y2="470.0" stroke="#000" stroke-width="1.0" />
<line x1="90.6" y1="382.0" x2="90.6" y2="470.0" stroke="#000" stroke-width="1.0" />
<line x1="93.6" y1="395.0" x2="93.6" y2="412.0" stroke="#000" stroke-width="0.9" />
<polygon points="83.0,424.0 94.0,411.5 142.0,454.0 142.0,470.0 83.0,470.0" fill="#fff" stroke="none" stroke-width="0" stroke-linejoin="round" />
<polyline points="83.0,424.0 94.0,411.5 138.0,450.5" fill="none" stroke="#000" stroke-width="1.5" stroke-linejoin="round" />
<line x1="83.0" y1="431.0" x2="122.0" y2="465.5" stroke="#000" stroke-width="1.2" />
<line x1="83.0" y1="436.5" x2="110.0" y2="460.5" stroke="#000" stroke-width="1.2" />
<line x1="94.0" y1="411.5" x2="108.0" y2="424.0" stroke="#000" stroke-width="0.8" />
<ellipse cx="57.0" cy="363.5" rx="3.0" ry="3.8" fill="#9a9a9a" stroke="#000" stroke-width="1.2" />
<path d="M59,361.5 L70,362.0 L70,365.0 L59,365.5 Z" fill="#111"/>
<ellipse cx="57.0" cy="445.0" rx="3.0" ry="3.8" fill="#9a9a9a" stroke="#000" stroke-width="1.2" />
<path d="M59,443.0 L70,443.5 L70,446.5 L59,447.0 Z" fill="#111"/>
<path d="M119,399 L128,398 L131,396.5 L133,398 L133,403 L131,404 L128,402.5 L119,403 Z" fill="#111"/>
<line x1="95.0" y1="401.7" x2="119.0" y2="401.0" stroke="#555" stroke-width="0.6" stroke-dasharray="2,1.5"/>
</g>
<circle cx="78.8" cy="403.6" r="60.0" fill="none" stroke="#3a3a3a" stroke-width="1.2" />
<clipPath id="c4"><circle cx="79.3" cy="670.2" r="62.3"/></clipPath>
<g clip-path="url(#c4)">
<rect x="71.3" y="600.0" width="34.0" height="75.0" fill="#fff" stroke="#000" stroke-width="1.2"/>
<rect x="78.3" y="600.0" width="0.9" height="75.0" fill="#000" />
<rect x="80.9" y="600.0" width="0.9" height="75.0" fill="#000" />
<rect x="83.5" y="600.0" width="4.4" height="75.0" fill="#333" />
<rect x="97.5" y="600.0" width="0.9" height="75.0" fill="#000" />
<rect x="101.0" y="600.0" width="0.9" height="75.0" fill="#000" />
<rect x="85.0" y="600.0" width="1.2" height="75.0" fill="#aaa" />
<rect x="73" y="613" width="4.4" height="6" rx="1.5" fill="#fff" stroke="#000" stroke-width="1"/>
<rect x="73" y="630.6" width="4.4" height="10" rx="1.5" fill="#fff" stroke="#000" stroke-width="1"/>
<rect x="73" y="650" width="4.4" height="8.6" rx="1.5" fill="#fff" stroke="#000" stroke-width="1"/>
<rect x="98.5" y="623" width="3" height="8" rx="1.2" fill="#fff" stroke="#000" stroke-width="0.9"/>
<rect x="98.5" y="642" width="3" height="9" rx="1.2" fill="#fff" stroke="#000" stroke-width="0.9"/>
<path d="M83,618 L96,618.5 L96,622 L83,621.5 Z" fill="#111"/>
<polygon points="69.0,660.0 70.5,648.0 75.0,651.0 76.5,664.0 72.0,668.0" fill="#fff" stroke="#000" stroke-width="1.1" stroke-linejoin="round" />
<ellipse cx="72.8" cy="657.0" rx="1.6" ry="2.5" fill="#fff" stroke="#000" stroke-width="0.9" />
<ellipse cx="29.3" cy="660.4" rx="3.6" ry="6.2" fill="#fff" stroke="#000" stroke-width="1.2" />
<path d="M32.5,656 L66,655.5 L66,662 L32.5,663.5 Z" fill="#1a1a1a"/>
<line x1="33.0" y1="656.0" x2="33.0" y2="663.5" stroke="#fff" stroke-width="1.0" />
<ellipse cx="113.3" cy="654.3" rx="2.8" ry="6.2" fill="#fff" stroke="#000" stroke-width="1.1" />
<ellipse cx="113.3" cy="654.3" rx="1.2" ry="3.0" fill="#fff" stroke="#000" stroke-width="0.8" />
<ellipse cx="121.5" cy="654.3" rx="3.4" ry="6.5" fill="#fff" stroke="#000" stroke-width="1.1" />
<ellipse cx="121.5" cy="654.3" rx="1.6" ry="3.5" fill="#fff" stroke="#000" stroke-width="0.8" />
<line x1="92.0" y1="655.5" x2="110.0" y2="654.5" stroke="#444" stroke-width="0.6" stroke-dasharray="2,2"/>
<polygon points="60.8,677.5 64.0,675.0 130.0,672.5 133.0,675.5 131.5,679.5 66.0,683.5 61.0,681.0" fill="#fff" stroke="#000" stroke-width="1.2" stroke-linejoin="round" />
<ellipse cx="118.5" cy="675.6" rx="3.5" ry="1.3" fill="#fff" stroke="#000" stroke-width="0.9" />
<polygon points="67.0,676.0 69.0,670.5 77.0,670.5 79.0,676.0 75.0,678.5 70.0,678.5" fill="#fff" stroke="#000" stroke-width="1.1" stroke-linejoin="round" />
<rect x="71.5" y="683.5" width="5.5" height="22.0" fill="#fff" stroke="#000" stroke-width="1.1"/>
<line x1="73.2" y1="684.0" x2="73.2" y2="705.0" stroke="#000" stroke-width="0.8" />
<path d="M71,705 L77.5,705 L78.5,712 L77.5,725 L71,725 L70,712 Z" fill="#fff" stroke="#000" stroke-width="1.2"/>
<line x1="70.5" y1="711.0" x2="78.0" y2="711.0" stroke="#000" stroke-width="0.9" />
<line x1="71.0" y1="718.0" x2="77.5" y2="718.0" stroke="#000" stroke-width="0.9" />
<rect x="72.0" y="725.0" width="4.5" height="8.0" fill="#fff" stroke="#000" stroke-width="1.1"/>
</g>
<circle cx="79.3" cy="670.2" r="62.8" fill="none" stroke="#3a3a3a" stroke-width="1.2" />
<g filter="url(#gs)"><text x="15.5" y="248.3" font-family="Liberation Sans, sans-serif" font-size="20" fill="#161616" stroke="#161616" stroke-width="0.35">Раскосная система</text></g>
<g filter="url(#gs)"><text x="112" y="522.5" font-family="Liberation Sans, sans-serif" font-size="20" fill="#161616" stroke="#161616" stroke-width="0.35">Рама</text></g>
<g filter="url(#gs)"><text x="675.5" y="571.8" font-family="Liberation Sans, sans-serif" font-size="20" fill="#161616" stroke="#161616" stroke-width="0.35">Полка</text></g>
</svg>
</body></html>
